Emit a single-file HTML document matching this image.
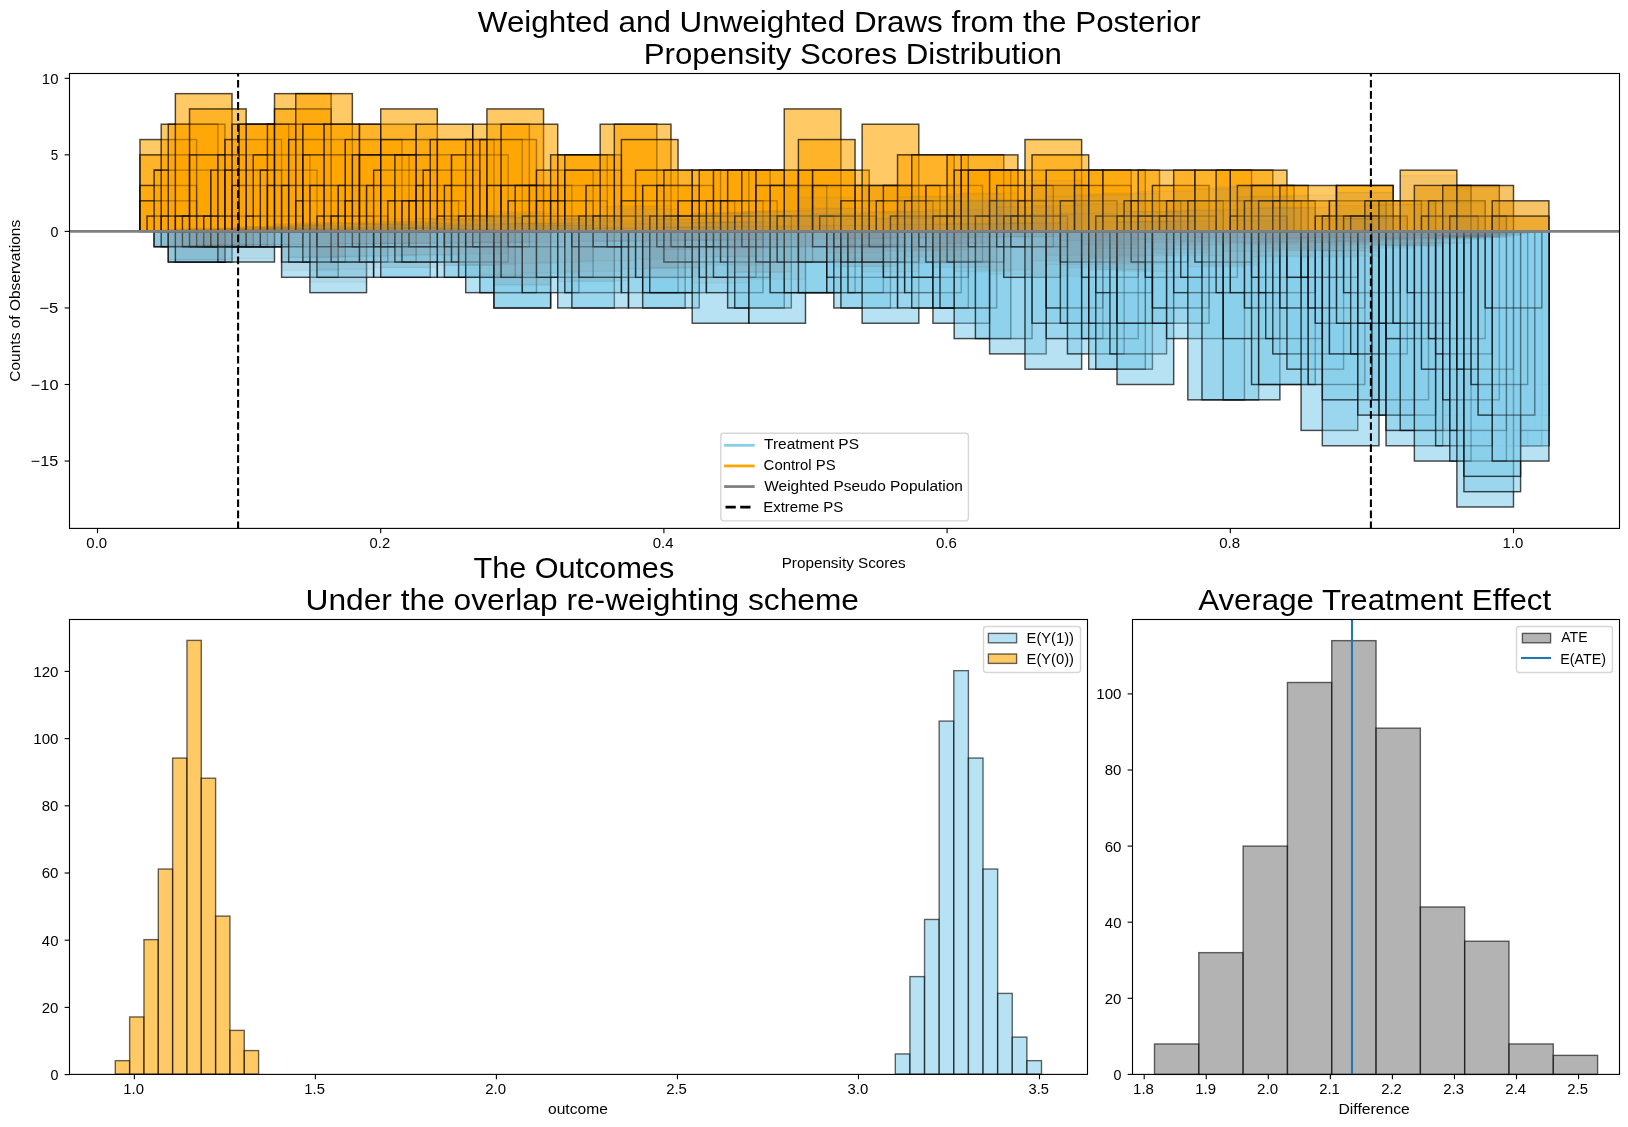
<!DOCTYPE html>
<html><head><meta charset="utf-8"><style>
html,body{margin:0;padding:0;background:#fff;overflow:hidden;}
svg{display:block;will-change:transform;}
text{font-family:"Liberation Sans",sans-serif;fill:#000;}
</style></head><body>
<svg width="1628" height="1127" viewBox="0 0 1628 1127">
<rect width="1628" height="1127" fill="#fff"/>
<clipPath id="ctop"><rect x="69.5" y="73.5" width="1550.0" height="454.9"/></clipPath>
<g clip-path="url(#ctop)">
<g fill="#87ceeb" fill-opacity="0.6" stroke="#000" stroke-opacity="0.6" stroke-width="1.39">
<rect x="1492.26" y="231.40" width="56.64" height="214.34"/>
<rect x="1492.26" y="231.40" width="56.64" height="183.72"/>
<rect x="1492.26" y="231.40" width="56.64" height="153.10"/>
<rect x="1485.18" y="231.40" width="56.64" height="183.72"/>
<rect x="1442.70" y="231.40" width="56.64" height="199.03"/>
<rect x="1471.02" y="231.40" width="56.64" height="214.34"/>
<rect x="1478.10" y="231.40" width="56.64" height="199.03"/>
<rect x="1485.18" y="231.40" width="56.64" height="214.34"/>
<rect x="1492.26" y="231.40" width="56.64" height="214.34"/>
<rect x="1492.26" y="231.40" width="56.64" height="199.03"/>
<rect x="1442.70" y="231.40" width="56.64" height="183.72"/>
<rect x="1428.54" y="231.40" width="56.64" height="183.72"/>
<rect x="154.14" y="231.40" width="56.64" height="15.31"/>
<rect x="154.14" y="231.40" width="56.64" height="15.31"/>
<rect x="161.22" y="231.40" width="56.64" height="15.31"/>
<rect x="168.30" y="231.40" width="56.64" height="30.62"/>
<rect x="168.30" y="231.40" width="56.64" height="30.62"/>
<rect x="175.38" y="231.40" width="56.64" height="30.62"/>
<rect x="182.46" y="231.40" width="56.64" height="15.31"/>
<rect x="189.54" y="231.40" width="56.64" height="15.31"/>
<rect x="196.62" y="231.40" width="56.64" height="15.31"/>
<rect x="203.70" y="231.40" width="56.64" height="15.31"/>
<rect x="210.78" y="231.40" width="56.64" height="15.31"/>
<rect x="217.86" y="231.40" width="56.64" height="30.62"/>
<rect x="217.86" y="231.40" width="56.64" height="15.31"/>
<rect x="232.02" y="231.40" width="56.64" height="15.31"/>
<rect x="246.18" y="231.40" width="56.64" height="15.31"/>
<rect x="260.34" y="231.40" width="56.64" height="15.31"/>
<rect x="281.58" y="231.40" width="56.64" height="45.93"/>
<rect x="281.58" y="231.40" width="56.64" height="30.62"/>
<rect x="288.66" y="231.40" width="56.64" height="30.62"/>
<rect x="302.82" y="231.40" width="56.64" height="30.62"/>
<rect x="309.90" y="231.40" width="56.64" height="61.24"/>
<rect x="316.98" y="231.40" width="56.64" height="45.93"/>
<rect x="316.98" y="231.40" width="56.64" height="15.31"/>
<rect x="331.14" y="231.40" width="56.64" height="30.62"/>
<rect x="338.22" y="231.40" width="56.64" height="15.31"/>
<rect x="352.38" y="231.40" width="56.64" height="15.31"/>
<rect x="359.46" y="231.40" width="56.64" height="30.62"/>
<rect x="373.62" y="231.40" width="56.64" height="45.93"/>
<rect x="373.62" y="231.40" width="56.64" height="15.31"/>
<rect x="380.70" y="231.40" width="56.64" height="45.93"/>
<rect x="380.70" y="231.40" width="56.64" height="15.31"/>
<rect x="394.86" y="231.40" width="56.64" height="30.62"/>
<rect x="401.94" y="231.40" width="56.64" height="30.62"/>
<rect x="409.02" y="231.40" width="56.64" height="15.31"/>
<rect x="437.34" y="231.40" width="56.64" height="45.93"/>
<rect x="444.42" y="231.40" width="56.64" height="45.93"/>
<rect x="444.42" y="231.40" width="56.64" height="15.31"/>
<rect x="451.50" y="231.40" width="56.64" height="30.62"/>
<rect x="458.58" y="231.40" width="56.64" height="45.93"/>
<rect x="465.66" y="231.40" width="56.64" height="61.24"/>
<rect x="465.66" y="231.40" width="56.64" height="15.31"/>
<rect x="472.74" y="231.40" width="56.64" height="15.31"/>
<rect x="479.82" y="231.40" width="56.64" height="61.24"/>
<rect x="493.98" y="231.40" width="56.64" height="76.55"/>
<rect x="493.98" y="231.40" width="56.64" height="76.55"/>
<rect x="501.06" y="231.40" width="56.64" height="45.93"/>
<rect x="508.14" y="231.40" width="56.64" height="15.31"/>
<rect x="522.30" y="231.40" width="56.64" height="61.24"/>
<rect x="536.46" y="231.40" width="56.64" height="45.93"/>
<rect x="557.70" y="231.40" width="56.64" height="76.55"/>
<rect x="564.78" y="231.40" width="56.64" height="61.24"/>
<rect x="571.86" y="231.40" width="56.64" height="76.55"/>
<rect x="571.86" y="231.40" width="56.64" height="15.31"/>
<rect x="578.94" y="231.40" width="56.64" height="45.93"/>
<rect x="593.10" y="231.40" width="56.64" height="15.31"/>
<rect x="607.26" y="231.40" width="56.64" height="15.31"/>
<rect x="621.42" y="231.40" width="56.64" height="61.24"/>
<rect x="628.50" y="231.40" width="56.64" height="76.55"/>
<rect x="635.58" y="231.40" width="56.64" height="45.93"/>
<rect x="642.66" y="231.40" width="56.64" height="76.55"/>
<rect x="642.66" y="231.40" width="56.64" height="61.24"/>
<rect x="649.74" y="231.40" width="56.64" height="61.24"/>
<rect x="656.82" y="231.40" width="56.64" height="15.31"/>
<rect x="663.90" y="231.40" width="56.64" height="30.62"/>
<rect x="670.98" y="231.40" width="56.64" height="15.31"/>
<rect x="685.14" y="231.40" width="56.64" height="15.31"/>
<rect x="692.22" y="231.40" width="56.64" height="91.86"/>
<rect x="699.30" y="231.40" width="56.64" height="45.93"/>
<rect x="706.38" y="231.40" width="56.64" height="61.24"/>
<rect x="706.38" y="231.40" width="56.64" height="15.31"/>
<rect x="713.46" y="231.40" width="56.64" height="45.93"/>
<rect x="720.54" y="231.40" width="56.64" height="30.62"/>
<rect x="727.62" y="231.40" width="56.64" height="76.55"/>
<rect x="734.70" y="231.40" width="56.64" height="76.55"/>
<rect x="741.78" y="231.40" width="56.64" height="15.31"/>
<rect x="748.86" y="231.40" width="56.64" height="91.86"/>
<rect x="755.94" y="231.40" width="56.64" height="30.62"/>
<rect x="770.10" y="231.40" width="56.64" height="61.24"/>
<rect x="777.18" y="231.40" width="56.64" height="30.62"/>
<rect x="784.26" y="231.40" width="56.64" height="61.24"/>
<rect x="798.42" y="231.40" width="56.64" height="61.24"/>
<rect x="798.42" y="231.40" width="56.64" height="30.62"/>
<rect x="812.58" y="231.40" width="56.64" height="15.31"/>
<rect x="826.74" y="231.40" width="56.64" height="61.24"/>
<rect x="826.74" y="231.40" width="56.64" height="45.93"/>
<rect x="833.82" y="231.40" width="56.64" height="76.55"/>
<rect x="833.82" y="231.40" width="56.64" height="15.31"/>
<rect x="840.90" y="231.40" width="56.64" height="76.55"/>
<rect x="840.90" y="231.40" width="56.64" height="30.62"/>
<rect x="847.98" y="231.40" width="56.64" height="61.24"/>
<rect x="847.98" y="231.40" width="56.64" height="30.62"/>
<rect x="862.14" y="231.40" width="56.64" height="91.86"/>
<rect x="862.14" y="231.40" width="56.64" height="30.62"/>
<rect x="869.22" y="231.40" width="56.64" height="15.31"/>
<rect x="883.38" y="231.40" width="56.64" height="45.93"/>
<rect x="897.54" y="231.40" width="56.64" height="76.55"/>
<rect x="904.62" y="231.40" width="56.64" height="61.24"/>
<rect x="911.70" y="231.40" width="56.64" height="76.55"/>
<rect x="911.70" y="231.40" width="56.64" height="45.93"/>
<rect x="918.78" y="231.40" width="56.64" height="15.31"/>
<rect x="925.86" y="231.40" width="56.64" height="30.62"/>
<rect x="932.94" y="231.40" width="56.64" height="91.86"/>
<rect x="932.94" y="231.40" width="56.64" height="76.55"/>
<rect x="940.02" y="231.40" width="56.64" height="76.55"/>
<rect x="947.10" y="231.40" width="56.64" height="30.62"/>
<rect x="954.18" y="231.40" width="56.64" height="107.17"/>
<rect x="968.34" y="231.40" width="56.64" height="15.31"/>
<rect x="975.42" y="231.40" width="56.64" height="107.17"/>
<rect x="989.58" y="231.40" width="56.64" height="122.48"/>
<rect x="996.66" y="231.40" width="56.64" height="15.31"/>
<rect x="1003.74" y="231.40" width="56.64" height="45.93"/>
<rect x="1010.82" y="231.40" width="56.64" height="15.31"/>
<rect x="1024.98" y="231.40" width="56.64" height="137.79"/>
<rect x="1032.06" y="231.40" width="56.64" height="91.86"/>
<rect x="1046.22" y="231.40" width="56.64" height="107.17"/>
<rect x="1046.22" y="231.40" width="56.64" height="76.55"/>
<rect x="1060.38" y="231.40" width="56.64" height="91.86"/>
<rect x="1060.38" y="231.40" width="56.64" height="30.62"/>
<rect x="1067.46" y="231.40" width="56.64" height="122.48"/>
<rect x="1081.62" y="231.40" width="56.64" height="107.17"/>
<rect x="1081.62" y="231.40" width="56.64" height="45.93"/>
<rect x="1088.70" y="231.40" width="56.64" height="137.79"/>
<rect x="1088.70" y="231.40" width="56.64" height="91.86"/>
<rect x="1095.78" y="231.40" width="56.64" height="137.79"/>
<rect x="1095.78" y="231.40" width="56.64" height="61.24"/>
<rect x="1109.94" y="231.40" width="56.64" height="122.48"/>
<rect x="1117.02" y="231.40" width="56.64" height="153.10"/>
<rect x="1117.02" y="231.40" width="56.64" height="91.86"/>
<rect x="1131.18" y="231.40" width="56.64" height="30.62"/>
<rect x="1145.34" y="231.40" width="56.64" height="45.93"/>
<rect x="1152.42" y="231.40" width="56.64" height="91.86"/>
<rect x="1152.42" y="231.40" width="56.64" height="76.55"/>
<rect x="1166.58" y="231.40" width="56.64" height="107.17"/>
<rect x="1173.66" y="231.40" width="56.64" height="61.24"/>
<rect x="1180.74" y="231.40" width="56.64" height="45.93"/>
<rect x="1187.82" y="231.40" width="56.64" height="168.41"/>
<rect x="1194.90" y="231.40" width="56.64" height="30.62"/>
<rect x="1201.98" y="231.40" width="56.64" height="168.41"/>
<rect x="1216.14" y="231.40" width="56.64" height="61.24"/>
<rect x="1223.22" y="231.40" width="56.64" height="168.41"/>
<rect x="1223.22" y="231.40" width="56.64" height="107.17"/>
<rect x="1230.30" y="231.40" width="56.64" height="61.24"/>
<rect x="1244.46" y="231.40" width="56.64" height="76.55"/>
<rect x="1251.54" y="231.40" width="56.64" height="153.10"/>
<rect x="1251.54" y="231.40" width="56.64" height="45.93"/>
<rect x="1258.62" y="231.40" width="56.64" height="153.10"/>
<rect x="1258.62" y="231.40" width="56.64" height="61.24"/>
<rect x="1265.70" y="231.40" width="56.64" height="107.17"/>
<rect x="1272.78" y="231.40" width="56.64" height="122.48"/>
<rect x="1279.86" y="231.40" width="56.64" height="76.55"/>
<rect x="1286.94" y="231.40" width="56.64" height="137.79"/>
<rect x="1286.94" y="231.40" width="56.64" height="45.93"/>
<rect x="1301.10" y="231.40" width="56.64" height="199.03"/>
<rect x="1301.10" y="231.40" width="56.64" height="45.93"/>
<rect x="1308.18" y="231.40" width="56.64" height="153.10"/>
<rect x="1308.18" y="231.40" width="56.64" height="76.55"/>
<rect x="1315.26" y="231.40" width="56.64" height="91.86"/>
<rect x="1322.34" y="231.40" width="56.64" height="214.34"/>
<rect x="1322.34" y="231.40" width="56.64" height="168.41"/>
<rect x="1329.42" y="231.40" width="56.64" height="122.48"/>
<rect x="1336.50" y="231.40" width="56.64" height="91.86"/>
<rect x="1343.58" y="231.40" width="56.64" height="61.24"/>
<rect x="1350.66" y="231.40" width="56.64" height="122.48"/>
<rect x="1357.74" y="231.40" width="56.64" height="183.72"/>
<rect x="1357.74" y="231.40" width="56.64" height="91.86"/>
<rect x="1371.90" y="231.40" width="56.64" height="168.41"/>
<rect x="1378.98" y="231.40" width="56.64" height="183.72"/>
<rect x="1378.98" y="231.40" width="56.64" height="91.86"/>
<rect x="1386.06" y="231.40" width="56.64" height="214.34"/>
<rect x="1386.06" y="231.40" width="56.64" height="199.03"/>
<rect x="1386.06" y="231.40" width="56.64" height="107.17"/>
<rect x="1393.14" y="231.40" width="56.64" height="91.86"/>
<rect x="1400.22" y="231.40" width="56.64" height="199.03"/>
<rect x="1407.30" y="231.40" width="56.64" height="61.24"/>
<rect x="1414.38" y="231.40" width="56.64" height="229.65"/>
<rect x="1421.46" y="231.40" width="56.64" height="137.79"/>
<rect x="1428.54" y="231.40" width="56.64" height="107.17"/>
<rect x="1435.62" y="231.40" width="56.64" height="214.34"/>
<rect x="1435.62" y="231.40" width="56.64" height="122.48"/>
<rect x="1442.70" y="231.40" width="56.64" height="168.41"/>
<rect x="1449.78" y="231.40" width="56.64" height="229.65"/>
<rect x="1449.78" y="231.40" width="56.64" height="199.03"/>
<rect x="1456.86" y="231.40" width="56.64" height="275.58"/>
<rect x="1456.86" y="231.40" width="56.64" height="137.79"/>
<rect x="1463.94" y="231.40" width="56.64" height="260.27"/>
<rect x="1463.94" y="231.40" width="56.64" height="244.96"/>
<rect x="1471.02" y="231.40" width="56.64" height="153.10"/>
<rect x="1478.10" y="231.40" width="56.64" height="183.72"/>
<rect x="1485.18" y="231.40" width="56.64" height="76.55"/>
<rect x="1492.26" y="231.40" width="56.64" height="229.65"/>
</g>
<g fill="#ffa500" fill-opacity="0.6" stroke="#000" stroke-opacity="0.6" stroke-width="1.39">
<rect x="139.98" y="139.54" width="56.64" height="91.86"/>
<rect x="139.98" y="154.85" width="56.64" height="76.55"/>
<rect x="139.98" y="185.47" width="56.64" height="45.93"/>
<rect x="139.98" y="200.78" width="56.64" height="30.62"/>
<rect x="147.06" y="216.09" width="56.64" height="15.31"/>
<rect x="154.14" y="170.16" width="56.64" height="61.24"/>
<rect x="161.22" y="124.23" width="56.64" height="107.17"/>
<rect x="161.22" y="216.09" width="56.64" height="15.31"/>
<rect x="168.30" y="124.23" width="56.64" height="107.17"/>
<rect x="175.38" y="93.61" width="56.64" height="137.79"/>
<rect x="175.38" y="216.09" width="56.64" height="15.31"/>
<rect x="182.46" y="216.09" width="56.64" height="15.31"/>
<rect x="189.54" y="108.92" width="56.64" height="122.48"/>
<rect x="189.54" y="154.85" width="56.64" height="76.55"/>
<rect x="203.70" y="216.09" width="56.64" height="15.31"/>
<rect x="210.78" y="170.16" width="56.64" height="61.24"/>
<rect x="217.86" y="154.85" width="56.64" height="76.55"/>
<rect x="224.94" y="139.54" width="56.64" height="91.86"/>
<rect x="224.94" y="170.16" width="56.64" height="61.24"/>
<rect x="232.02" y="124.23" width="56.64" height="107.17"/>
<rect x="232.02" y="185.47" width="56.64" height="45.93"/>
<rect x="239.10" y="124.23" width="56.64" height="107.17"/>
<rect x="246.18" y="124.23" width="56.64" height="107.17"/>
<rect x="246.18" y="216.09" width="56.64" height="15.31"/>
<rect x="253.26" y="154.85" width="56.64" height="76.55"/>
<rect x="260.34" y="170.16" width="56.64" height="61.24"/>
<rect x="267.42" y="124.23" width="56.64" height="107.17"/>
<rect x="267.42" y="185.47" width="56.64" height="45.93"/>
<rect x="274.50" y="93.61" width="56.64" height="137.79"/>
<rect x="274.50" y="108.92" width="56.64" height="122.48"/>
<rect x="281.58" y="185.47" width="56.64" height="45.93"/>
<rect x="288.66" y="139.54" width="56.64" height="91.86"/>
<rect x="295.74" y="93.61" width="56.64" height="137.79"/>
<rect x="295.74" y="200.78" width="56.64" height="30.62"/>
<rect x="302.82" y="124.23" width="56.64" height="107.17"/>
<rect x="302.82" y="154.85" width="56.64" height="76.55"/>
<rect x="309.90" y="185.47" width="56.64" height="45.93"/>
<rect x="316.98" y="216.09" width="56.64" height="15.31"/>
<rect x="324.06" y="124.23" width="56.64" height="107.17"/>
<rect x="331.14" y="216.09" width="56.64" height="15.31"/>
<rect x="338.22" y="185.47" width="56.64" height="45.93"/>
<rect x="345.30" y="139.54" width="56.64" height="91.86"/>
<rect x="345.30" y="200.78" width="56.64" height="30.62"/>
<rect x="352.38" y="154.85" width="56.64" height="76.55"/>
<rect x="359.46" y="124.23" width="56.64" height="107.17"/>
<rect x="359.46" y="154.85" width="56.64" height="76.55"/>
<rect x="366.54" y="185.47" width="56.64" height="45.93"/>
<rect x="373.62" y="170.16" width="56.64" height="61.24"/>
<rect x="380.70" y="108.92" width="56.64" height="122.48"/>
<rect x="380.70" y="139.54" width="56.64" height="91.86"/>
<rect x="387.78" y="200.78" width="56.64" height="30.62"/>
<rect x="394.86" y="154.85" width="56.64" height="76.55"/>
<rect x="401.94" y="200.78" width="56.64" height="30.62"/>
<rect x="409.02" y="200.78" width="56.64" height="30.62"/>
<rect x="416.10" y="124.23" width="56.64" height="107.17"/>
<rect x="416.10" y="185.47" width="56.64" height="45.93"/>
<rect x="423.18" y="170.16" width="56.64" height="61.24"/>
<rect x="430.26" y="139.54" width="56.64" height="91.86"/>
<rect x="437.34" y="139.54" width="56.64" height="91.86"/>
<rect x="437.34" y="216.09" width="56.64" height="15.31"/>
<rect x="444.42" y="185.47" width="56.64" height="45.93"/>
<rect x="451.50" y="154.85" width="56.64" height="76.55"/>
<rect x="458.58" y="216.09" width="56.64" height="15.31"/>
<rect x="465.66" y="139.54" width="56.64" height="91.86"/>
<rect x="472.74" y="124.23" width="56.64" height="107.17"/>
<rect x="479.82" y="139.54" width="56.64" height="91.86"/>
<rect x="486.90" y="108.92" width="56.64" height="122.48"/>
<rect x="486.90" y="185.47" width="56.64" height="45.93"/>
<rect x="501.06" y="124.23" width="56.64" height="107.17"/>
<rect x="501.06" y="185.47" width="56.64" height="45.93"/>
<rect x="508.14" y="200.78" width="56.64" height="30.62"/>
<rect x="515.22" y="185.47" width="56.64" height="45.93"/>
<rect x="522.30" y="216.09" width="56.64" height="15.31"/>
<rect x="529.38" y="185.47" width="56.64" height="45.93"/>
<rect x="536.46" y="170.16" width="56.64" height="61.24"/>
<rect x="536.46" y="200.78" width="56.64" height="30.62"/>
<rect x="550.62" y="154.85" width="56.64" height="76.55"/>
<rect x="550.62" y="200.78" width="56.64" height="30.62"/>
<rect x="557.70" y="154.85" width="56.64" height="76.55"/>
<rect x="564.78" y="154.85" width="56.64" height="76.55"/>
<rect x="564.78" y="170.16" width="56.64" height="61.24"/>
<rect x="578.94" y="216.09" width="56.64" height="15.31"/>
<rect x="586.02" y="185.47" width="56.64" height="45.93"/>
<rect x="593.10" y="216.09" width="56.64" height="15.31"/>
<rect x="600.18" y="124.23" width="56.64" height="107.17"/>
<rect x="614.34" y="124.23" width="56.64" height="107.17"/>
<rect x="621.42" y="139.54" width="56.64" height="91.86"/>
<rect x="621.42" y="200.78" width="56.64" height="30.62"/>
<rect x="635.58" y="170.16" width="56.64" height="61.24"/>
<rect x="642.66" y="185.47" width="56.64" height="45.93"/>
<rect x="649.74" y="216.09" width="56.64" height="15.31"/>
<rect x="656.82" y="185.47" width="56.64" height="45.93"/>
<rect x="663.90" y="170.16" width="56.64" height="61.24"/>
<rect x="663.90" y="216.09" width="56.64" height="15.31"/>
<rect x="678.06" y="200.78" width="56.64" height="30.62"/>
<rect x="678.06" y="216.09" width="56.64" height="15.31"/>
<rect x="692.22" y="170.16" width="56.64" height="61.24"/>
<rect x="692.22" y="200.78" width="56.64" height="30.62"/>
<rect x="699.30" y="170.16" width="56.64" height="61.24"/>
<rect x="706.38" y="200.78" width="56.64" height="30.62"/>
<rect x="713.46" y="170.16" width="56.64" height="61.24"/>
<rect x="720.54" y="200.78" width="56.64" height="30.62"/>
<rect x="727.62" y="170.16" width="56.64" height="61.24"/>
<rect x="734.70" y="216.09" width="56.64" height="15.31"/>
<rect x="741.78" y="170.16" width="56.64" height="61.24"/>
<rect x="755.94" y="170.16" width="56.64" height="61.24"/>
<rect x="755.94" y="185.47" width="56.64" height="45.93"/>
<rect x="770.10" y="185.47" width="56.64" height="45.93"/>
<rect x="777.18" y="216.09" width="56.64" height="15.31"/>
<rect x="784.26" y="108.92" width="56.64" height="122.48"/>
<rect x="798.42" y="139.54" width="56.64" height="91.86"/>
<rect x="798.42" y="170.16" width="56.64" height="61.24"/>
<rect x="812.58" y="170.16" width="56.64" height="61.24"/>
<rect x="812.58" y="185.47" width="56.64" height="45.93"/>
<rect x="819.66" y="216.09" width="56.64" height="15.31"/>
<rect x="840.90" y="200.78" width="56.64" height="30.62"/>
<rect x="855.06" y="185.47" width="56.64" height="45.93"/>
<rect x="862.14" y="124.23" width="56.64" height="107.17"/>
<rect x="869.22" y="185.47" width="56.64" height="45.93"/>
<rect x="876.30" y="200.78" width="56.64" height="30.62"/>
<rect x="883.38" y="185.47" width="56.64" height="45.93"/>
<rect x="890.46" y="216.09" width="56.64" height="15.31"/>
<rect x="897.54" y="154.85" width="56.64" height="76.55"/>
<rect x="904.62" y="200.78" width="56.64" height="30.62"/>
<rect x="911.70" y="154.85" width="56.64" height="76.55"/>
<rect x="925.86" y="185.47" width="56.64" height="45.93"/>
<rect x="932.94" y="216.09" width="56.64" height="15.31"/>
<rect x="947.10" y="154.85" width="56.64" height="76.55"/>
<rect x="947.10" y="216.09" width="56.64" height="15.31"/>
<rect x="954.18" y="170.16" width="56.64" height="61.24"/>
<rect x="961.26" y="154.85" width="56.64" height="76.55"/>
<rect x="961.26" y="170.16" width="56.64" height="61.24"/>
<rect x="968.34" y="170.16" width="56.64" height="61.24"/>
<rect x="975.42" y="216.09" width="56.64" height="15.31"/>
<rect x="989.58" y="170.16" width="56.64" height="61.24"/>
<rect x="989.58" y="200.78" width="56.64" height="30.62"/>
<rect x="996.66" y="185.47" width="56.64" height="45.93"/>
<rect x="1003.74" y="216.09" width="56.64" height="15.31"/>
<rect x="1010.82" y="216.09" width="56.64" height="15.31"/>
<rect x="1017.90" y="200.78" width="56.64" height="30.62"/>
<rect x="1024.98" y="139.54" width="56.64" height="91.86"/>
<rect x="1032.06" y="154.85" width="56.64" height="76.55"/>
<rect x="1032.06" y="185.47" width="56.64" height="45.93"/>
<rect x="1046.22" y="170.16" width="56.64" height="61.24"/>
<rect x="1060.38" y="200.78" width="56.64" height="30.62"/>
<rect x="1074.54" y="170.16" width="56.64" height="61.24"/>
<rect x="1074.54" y="185.47" width="56.64" height="45.93"/>
<rect x="1088.70" y="170.16" width="56.64" height="61.24"/>
<rect x="1095.78" y="216.09" width="56.64" height="15.31"/>
<rect x="1102.86" y="170.16" width="56.64" height="61.24"/>
<rect x="1117.02" y="216.09" width="56.64" height="15.31"/>
<rect x="1124.10" y="200.78" width="56.64" height="30.62"/>
<rect x="1131.18" y="200.78" width="56.64" height="30.62"/>
<rect x="1138.26" y="170.16" width="56.64" height="61.24"/>
<rect x="1138.26" y="216.09" width="56.64" height="15.31"/>
<rect x="1152.42" y="185.47" width="56.64" height="45.93"/>
<rect x="1159.50" y="216.09" width="56.64" height="15.31"/>
<rect x="1166.58" y="200.78" width="56.64" height="30.62"/>
<rect x="1173.66" y="170.16" width="56.64" height="61.24"/>
<rect x="1187.82" y="200.78" width="56.64" height="30.62"/>
<rect x="1194.90" y="170.16" width="56.64" height="61.24"/>
<rect x="1216.14" y="170.16" width="56.64" height="61.24"/>
<rect x="1230.30" y="170.16" width="56.64" height="61.24"/>
<rect x="1230.30" y="216.09" width="56.64" height="15.31"/>
<rect x="1237.38" y="185.47" width="56.64" height="45.93"/>
<rect x="1244.46" y="200.78" width="56.64" height="30.62"/>
<rect x="1251.54" y="185.47" width="56.64" height="45.93"/>
<rect x="1258.62" y="200.78" width="56.64" height="30.62"/>
<rect x="1272.78" y="200.78" width="56.64" height="30.62"/>
<rect x="1279.86" y="185.47" width="56.64" height="45.93"/>
<rect x="1315.26" y="216.09" width="56.64" height="15.31"/>
<rect x="1322.34" y="216.09" width="56.64" height="15.31"/>
<rect x="1329.42" y="200.78" width="56.64" height="30.62"/>
<rect x="1336.50" y="185.47" width="56.64" height="45.93"/>
<rect x="1336.50" y="185.47" width="56.64" height="45.93"/>
<rect x="1343.58" y="216.09" width="56.64" height="15.31"/>
<rect x="1350.66" y="216.09" width="56.64" height="15.31"/>
<rect x="1364.82" y="200.78" width="56.64" height="30.62"/>
<rect x="1378.98" y="200.78" width="56.64" height="30.62"/>
<rect x="1400.22" y="170.16" width="56.64" height="61.24"/>
<rect x="1414.38" y="185.47" width="56.64" height="45.93"/>
<rect x="1421.46" y="216.09" width="56.64" height="15.31"/>
<rect x="1428.54" y="200.78" width="56.64" height="30.62"/>
<rect x="1442.70" y="185.47" width="56.64" height="45.93"/>
<rect x="1449.78" y="216.09" width="56.64" height="15.31"/>
<rect x="1456.86" y="185.47" width="56.64" height="45.93"/>
<rect x="1492.26" y="200.78" width="56.64" height="30.62"/>
<rect x="1492.26" y="216.09" width="56.64" height="15.31"/>
</g>
<g fill="none" stroke="#000" stroke-opacity="0.25" stroke-width="1.39">
<rect x="154.14" y="231.40" width="56.64" height="15.31"/>
<rect x="154.14" y="231.40" width="56.64" height="15.31"/>
<rect x="161.22" y="231.40" width="56.64" height="15.31"/>
<rect x="168.30" y="231.40" width="56.64" height="30.62"/>
<rect x="168.30" y="231.40" width="56.64" height="30.62"/>
<rect x="175.38" y="231.40" width="56.64" height="30.62"/>
<rect x="182.46" y="231.40" width="56.64" height="15.31"/>
<rect x="189.54" y="231.40" width="56.64" height="15.31"/>
<rect x="196.62" y="231.40" width="56.64" height="15.31"/>
<rect x="203.70" y="231.40" width="56.64" height="15.31"/>
<rect x="210.78" y="231.40" width="56.64" height="15.31"/>
<rect x="217.86" y="231.40" width="56.64" height="30.62"/>
<rect x="217.86" y="231.40" width="56.64" height="15.31"/>
<rect x="232.02" y="231.40" width="56.64" height="15.31"/>
<rect x="246.18" y="231.40" width="56.64" height="15.31"/>
<rect x="260.34" y="231.40" width="56.64" height="15.31"/>
<rect x="281.58" y="231.40" width="56.64" height="45.93"/>
<rect x="281.58" y="231.40" width="56.64" height="30.62"/>
<rect x="288.66" y="231.40" width="56.64" height="30.62"/>
<rect x="302.82" y="231.40" width="56.64" height="30.62"/>
<rect x="309.90" y="231.40" width="56.64" height="61.24"/>
<rect x="316.98" y="231.40" width="56.64" height="45.93"/>
<rect x="316.98" y="231.40" width="56.64" height="15.31"/>
<rect x="331.14" y="231.40" width="56.64" height="30.62"/>
<rect x="338.22" y="231.40" width="56.64" height="15.31"/>
<rect x="352.38" y="231.40" width="56.64" height="15.31"/>
<rect x="359.46" y="231.40" width="56.64" height="30.62"/>
<rect x="373.62" y="231.40" width="56.64" height="45.93"/>
<rect x="373.62" y="231.40" width="56.64" height="15.31"/>
<rect x="380.70" y="231.40" width="56.64" height="45.93"/>
<rect x="380.70" y="231.40" width="56.64" height="15.31"/>
<rect x="394.86" y="231.40" width="56.64" height="30.62"/>
<rect x="401.94" y="231.40" width="56.64" height="30.62"/>
<rect x="409.02" y="231.40" width="56.64" height="15.31"/>
<rect x="437.34" y="231.40" width="56.64" height="45.93"/>
<rect x="444.42" y="231.40" width="56.64" height="45.93"/>
<rect x="444.42" y="231.40" width="56.64" height="15.31"/>
<rect x="451.50" y="231.40" width="56.64" height="30.62"/>
<rect x="458.58" y="231.40" width="56.64" height="45.93"/>
<rect x="465.66" y="231.40" width="56.64" height="61.24"/>
<rect x="465.66" y="231.40" width="56.64" height="15.31"/>
<rect x="472.74" y="231.40" width="56.64" height="15.31"/>
<rect x="479.82" y="231.40" width="56.64" height="61.24"/>
<rect x="493.98" y="231.40" width="56.64" height="76.55"/>
<rect x="493.98" y="231.40" width="56.64" height="76.55"/>
<rect x="501.06" y="231.40" width="56.64" height="45.93"/>
<rect x="508.14" y="231.40" width="56.64" height="15.31"/>
<rect x="522.30" y="231.40" width="56.64" height="61.24"/>
<rect x="536.46" y="231.40" width="56.64" height="45.93"/>
<rect x="557.70" y="231.40" width="56.64" height="76.55"/>
<rect x="564.78" y="231.40" width="56.64" height="61.24"/>
<rect x="571.86" y="231.40" width="56.64" height="76.55"/>
<rect x="571.86" y="231.40" width="56.64" height="15.31"/>
<rect x="578.94" y="231.40" width="56.64" height="45.93"/>
<rect x="593.10" y="231.40" width="56.64" height="15.31"/>
<rect x="607.26" y="231.40" width="56.64" height="15.31"/>
<rect x="621.42" y="231.40" width="56.64" height="61.24"/>
<rect x="628.50" y="231.40" width="56.64" height="76.55"/>
<rect x="635.58" y="231.40" width="56.64" height="45.93"/>
<rect x="642.66" y="231.40" width="56.64" height="76.55"/>
<rect x="642.66" y="231.40" width="56.64" height="61.24"/>
<rect x="649.74" y="231.40" width="56.64" height="61.24"/>
<rect x="656.82" y="231.40" width="56.64" height="15.31"/>
<rect x="663.90" y="231.40" width="56.64" height="30.62"/>
<rect x="670.98" y="231.40" width="56.64" height="15.31"/>
<rect x="685.14" y="231.40" width="56.64" height="15.31"/>
<rect x="692.22" y="231.40" width="56.64" height="91.86"/>
<rect x="699.30" y="231.40" width="56.64" height="45.93"/>
<rect x="706.38" y="231.40" width="56.64" height="61.24"/>
<rect x="706.38" y="231.40" width="56.64" height="15.31"/>
<rect x="713.46" y="231.40" width="56.64" height="45.93"/>
<rect x="720.54" y="231.40" width="56.64" height="30.62"/>
<rect x="727.62" y="231.40" width="56.64" height="76.55"/>
<rect x="734.70" y="231.40" width="56.64" height="76.55"/>
<rect x="741.78" y="231.40" width="56.64" height="15.31"/>
<rect x="748.86" y="231.40" width="56.64" height="91.86"/>
<rect x="755.94" y="231.40" width="56.64" height="30.62"/>
<rect x="770.10" y="231.40" width="56.64" height="61.24"/>
<rect x="777.18" y="231.40" width="56.64" height="30.62"/>
<rect x="784.26" y="231.40" width="56.64" height="61.24"/>
<rect x="798.42" y="231.40" width="56.64" height="61.24"/>
<rect x="798.42" y="231.40" width="56.64" height="30.62"/>
<rect x="812.58" y="231.40" width="56.64" height="15.31"/>
<rect x="826.74" y="231.40" width="56.64" height="61.24"/>
<rect x="826.74" y="231.40" width="56.64" height="45.93"/>
<rect x="833.82" y="231.40" width="56.64" height="76.55"/>
<rect x="833.82" y="231.40" width="56.64" height="15.31"/>
<rect x="840.90" y="231.40" width="56.64" height="76.55"/>
<rect x="840.90" y="231.40" width="56.64" height="30.62"/>
<rect x="847.98" y="231.40" width="56.64" height="61.24"/>
<rect x="847.98" y="231.40" width="56.64" height="30.62"/>
<rect x="862.14" y="231.40" width="56.64" height="91.86"/>
<rect x="862.14" y="231.40" width="56.64" height="30.62"/>
<rect x="869.22" y="231.40" width="56.64" height="15.31"/>
<rect x="883.38" y="231.40" width="56.64" height="45.93"/>
<rect x="897.54" y="231.40" width="56.64" height="76.55"/>
<rect x="904.62" y="231.40" width="56.64" height="61.24"/>
<rect x="911.70" y="231.40" width="56.64" height="76.55"/>
<rect x="911.70" y="231.40" width="56.64" height="45.93"/>
<rect x="918.78" y="231.40" width="56.64" height="15.31"/>
<rect x="925.86" y="231.40" width="56.64" height="30.62"/>
<rect x="932.94" y="231.40" width="56.64" height="91.86"/>
<rect x="932.94" y="231.40" width="56.64" height="76.55"/>
<rect x="940.02" y="231.40" width="56.64" height="76.55"/>
<rect x="947.10" y="231.40" width="56.64" height="30.62"/>
<rect x="954.18" y="231.40" width="56.64" height="107.17"/>
<rect x="968.34" y="231.40" width="56.64" height="15.31"/>
<rect x="975.42" y="231.40" width="56.64" height="107.17"/>
<rect x="989.58" y="231.40" width="56.64" height="122.48"/>
<rect x="996.66" y="231.40" width="56.64" height="15.31"/>
<rect x="1003.74" y="231.40" width="56.64" height="45.93"/>
<rect x="1010.82" y="231.40" width="56.64" height="15.31"/>
<rect x="1024.98" y="231.40" width="56.64" height="137.79"/>
<rect x="1032.06" y="231.40" width="56.64" height="91.86"/>
<rect x="1046.22" y="231.40" width="56.64" height="107.17"/>
<rect x="1046.22" y="231.40" width="56.64" height="76.55"/>
<rect x="1060.38" y="231.40" width="56.64" height="91.86"/>
<rect x="1060.38" y="231.40" width="56.64" height="30.62"/>
<rect x="1067.46" y="231.40" width="56.64" height="122.48"/>
<rect x="1081.62" y="231.40" width="56.64" height="107.17"/>
<rect x="1081.62" y="231.40" width="56.64" height="45.93"/>
<rect x="1088.70" y="231.40" width="56.64" height="137.79"/>
<rect x="1088.70" y="231.40" width="56.64" height="91.86"/>
<rect x="1095.78" y="231.40" width="56.64" height="137.79"/>
<rect x="1095.78" y="231.40" width="56.64" height="61.24"/>
<rect x="1109.94" y="231.40" width="56.64" height="122.48"/>
<rect x="1117.02" y="231.40" width="56.64" height="153.10"/>
<rect x="1117.02" y="231.40" width="56.64" height="91.86"/>
<rect x="1131.18" y="231.40" width="56.64" height="30.62"/>
<rect x="1145.34" y="231.40" width="56.64" height="45.93"/>
<rect x="1152.42" y="231.40" width="56.64" height="91.86"/>
<rect x="1152.42" y="231.40" width="56.64" height="76.55"/>
<rect x="1166.58" y="231.40" width="56.64" height="107.17"/>
<rect x="1173.66" y="231.40" width="56.64" height="61.24"/>
<rect x="1180.74" y="231.40" width="56.64" height="45.93"/>
<rect x="1187.82" y="231.40" width="56.64" height="168.41"/>
<rect x="1194.90" y="231.40" width="56.64" height="30.62"/>
<rect x="1201.98" y="231.40" width="56.64" height="168.41"/>
<rect x="1216.14" y="231.40" width="56.64" height="61.24"/>
<rect x="1223.22" y="231.40" width="56.64" height="168.41"/>
<rect x="1223.22" y="231.40" width="56.64" height="107.17"/>
<rect x="1230.30" y="231.40" width="56.64" height="61.24"/>
<rect x="1244.46" y="231.40" width="56.64" height="76.55"/>
<rect x="1251.54" y="231.40" width="56.64" height="153.10"/>
<rect x="1251.54" y="231.40" width="56.64" height="45.93"/>
<rect x="1258.62" y="231.40" width="56.64" height="153.10"/>
<rect x="1258.62" y="231.40" width="56.64" height="61.24"/>
<rect x="1265.70" y="231.40" width="56.64" height="107.17"/>
<rect x="1272.78" y="231.40" width="56.64" height="122.48"/>
<rect x="1279.86" y="231.40" width="56.64" height="76.55"/>
<rect x="1286.94" y="231.40" width="56.64" height="137.79"/>
<rect x="1286.94" y="231.40" width="56.64" height="45.93"/>
<rect x="1301.10" y="231.40" width="56.64" height="199.03"/>
<rect x="1301.10" y="231.40" width="56.64" height="45.93"/>
<rect x="1308.18" y="231.40" width="56.64" height="153.10"/>
<rect x="1308.18" y="231.40" width="56.64" height="76.55"/>
<rect x="1315.26" y="231.40" width="56.64" height="91.86"/>
<rect x="1322.34" y="231.40" width="56.64" height="214.34"/>
<rect x="1322.34" y="231.40" width="56.64" height="168.41"/>
<rect x="1329.42" y="231.40" width="56.64" height="122.48"/>
<rect x="1336.50" y="231.40" width="56.64" height="91.86"/>
<rect x="1343.58" y="231.40" width="56.64" height="61.24"/>
<rect x="1350.66" y="231.40" width="56.64" height="122.48"/>
<rect x="1357.74" y="231.40" width="56.64" height="183.72"/>
<rect x="1357.74" y="231.40" width="56.64" height="91.86"/>
<rect x="1371.90" y="231.40" width="56.64" height="168.41"/>
<rect x="1378.98" y="231.40" width="56.64" height="183.72"/>
<rect x="1378.98" y="231.40" width="56.64" height="91.86"/>
<rect x="1386.06" y="231.40" width="56.64" height="214.34"/>
<rect x="1386.06" y="231.40" width="56.64" height="199.03"/>
<rect x="1386.06" y="231.40" width="56.64" height="107.17"/>
<rect x="1393.14" y="231.40" width="56.64" height="91.86"/>
<rect x="1400.22" y="231.40" width="56.64" height="199.03"/>
<rect x="1407.30" y="231.40" width="56.64" height="61.24"/>
<rect x="1414.38" y="231.40" width="56.64" height="229.65"/>
<rect x="1421.46" y="231.40" width="56.64" height="137.79"/>
<rect x="1428.54" y="231.40" width="56.64" height="107.17"/>
<rect x="1435.62" y="231.40" width="56.64" height="214.34"/>
<rect x="1435.62" y="231.40" width="56.64" height="122.48"/>
<rect x="1442.70" y="231.40" width="56.64" height="168.41"/>
<rect x="1449.78" y="231.40" width="56.64" height="229.65"/>
<rect x="1449.78" y="231.40" width="56.64" height="199.03"/>
<rect x="1456.86" y="231.40" width="56.64" height="275.58"/>
<rect x="1456.86" y="231.40" width="56.64" height="137.79"/>
<rect x="1463.94" y="231.40" width="56.64" height="260.27"/>
<rect x="1463.94" y="231.40" width="56.64" height="244.96"/>
<rect x="1471.02" y="231.40" width="56.64" height="153.10"/>
<rect x="1478.10" y="231.40" width="56.64" height="183.72"/>
<rect x="1485.18" y="231.40" width="56.64" height="76.55"/>
<rect x="1492.26" y="231.40" width="56.64" height="229.65"/>
<rect x="139.98" y="139.54" width="56.64" height="91.86"/>
<rect x="139.98" y="154.85" width="56.64" height="76.55"/>
<rect x="139.98" y="185.47" width="56.64" height="45.93"/>
<rect x="139.98" y="200.78" width="56.64" height="30.62"/>
<rect x="147.06" y="216.09" width="56.64" height="15.31"/>
<rect x="154.14" y="170.16" width="56.64" height="61.24"/>
<rect x="161.22" y="124.23" width="56.64" height="107.17"/>
<rect x="161.22" y="216.09" width="56.64" height="15.31"/>
<rect x="168.30" y="124.23" width="56.64" height="107.17"/>
<rect x="175.38" y="93.61" width="56.64" height="137.79"/>
<rect x="175.38" y="216.09" width="56.64" height="15.31"/>
<rect x="182.46" y="216.09" width="56.64" height="15.31"/>
<rect x="189.54" y="108.92" width="56.64" height="122.48"/>
<rect x="189.54" y="154.85" width="56.64" height="76.55"/>
<rect x="203.70" y="216.09" width="56.64" height="15.31"/>
<rect x="210.78" y="170.16" width="56.64" height="61.24"/>
<rect x="217.86" y="154.85" width="56.64" height="76.55"/>
<rect x="224.94" y="139.54" width="56.64" height="91.86"/>
<rect x="224.94" y="170.16" width="56.64" height="61.24"/>
<rect x="232.02" y="124.23" width="56.64" height="107.17"/>
<rect x="232.02" y="185.47" width="56.64" height="45.93"/>
<rect x="239.10" y="124.23" width="56.64" height="107.17"/>
<rect x="246.18" y="124.23" width="56.64" height="107.17"/>
<rect x="246.18" y="216.09" width="56.64" height="15.31"/>
<rect x="253.26" y="154.85" width="56.64" height="76.55"/>
<rect x="260.34" y="170.16" width="56.64" height="61.24"/>
<rect x="267.42" y="124.23" width="56.64" height="107.17"/>
<rect x="267.42" y="185.47" width="56.64" height="45.93"/>
<rect x="274.50" y="93.61" width="56.64" height="137.79"/>
<rect x="274.50" y="108.92" width="56.64" height="122.48"/>
<rect x="281.58" y="185.47" width="56.64" height="45.93"/>
<rect x="288.66" y="139.54" width="56.64" height="91.86"/>
<rect x="295.74" y="93.61" width="56.64" height="137.79"/>
<rect x="295.74" y="200.78" width="56.64" height="30.62"/>
<rect x="302.82" y="124.23" width="56.64" height="107.17"/>
<rect x="302.82" y="154.85" width="56.64" height="76.55"/>
<rect x="309.90" y="185.47" width="56.64" height="45.93"/>
<rect x="316.98" y="216.09" width="56.64" height="15.31"/>
<rect x="324.06" y="124.23" width="56.64" height="107.17"/>
<rect x="331.14" y="216.09" width="56.64" height="15.31"/>
<rect x="338.22" y="185.47" width="56.64" height="45.93"/>
<rect x="345.30" y="139.54" width="56.64" height="91.86"/>
<rect x="345.30" y="200.78" width="56.64" height="30.62"/>
<rect x="352.38" y="154.85" width="56.64" height="76.55"/>
<rect x="359.46" y="124.23" width="56.64" height="107.17"/>
<rect x="359.46" y="154.85" width="56.64" height="76.55"/>
<rect x="366.54" y="185.47" width="56.64" height="45.93"/>
<rect x="373.62" y="170.16" width="56.64" height="61.24"/>
<rect x="380.70" y="108.92" width="56.64" height="122.48"/>
<rect x="380.70" y="139.54" width="56.64" height="91.86"/>
<rect x="387.78" y="200.78" width="56.64" height="30.62"/>
<rect x="394.86" y="154.85" width="56.64" height="76.55"/>
<rect x="401.94" y="200.78" width="56.64" height="30.62"/>
<rect x="409.02" y="200.78" width="56.64" height="30.62"/>
<rect x="416.10" y="124.23" width="56.64" height="107.17"/>
<rect x="416.10" y="185.47" width="56.64" height="45.93"/>
<rect x="423.18" y="170.16" width="56.64" height="61.24"/>
<rect x="430.26" y="139.54" width="56.64" height="91.86"/>
<rect x="437.34" y="139.54" width="56.64" height="91.86"/>
<rect x="437.34" y="216.09" width="56.64" height="15.31"/>
<rect x="444.42" y="185.47" width="56.64" height="45.93"/>
<rect x="451.50" y="154.85" width="56.64" height="76.55"/>
<rect x="458.58" y="216.09" width="56.64" height="15.31"/>
<rect x="465.66" y="139.54" width="56.64" height="91.86"/>
<rect x="472.74" y="124.23" width="56.64" height="107.17"/>
<rect x="479.82" y="139.54" width="56.64" height="91.86"/>
<rect x="486.90" y="108.92" width="56.64" height="122.48"/>
<rect x="486.90" y="185.47" width="56.64" height="45.93"/>
<rect x="501.06" y="124.23" width="56.64" height="107.17"/>
<rect x="501.06" y="185.47" width="56.64" height="45.93"/>
<rect x="508.14" y="200.78" width="56.64" height="30.62"/>
<rect x="515.22" y="185.47" width="56.64" height="45.93"/>
<rect x="522.30" y="216.09" width="56.64" height="15.31"/>
<rect x="529.38" y="185.47" width="56.64" height="45.93"/>
<rect x="536.46" y="170.16" width="56.64" height="61.24"/>
<rect x="536.46" y="200.78" width="56.64" height="30.62"/>
<rect x="550.62" y="154.85" width="56.64" height="76.55"/>
<rect x="550.62" y="200.78" width="56.64" height="30.62"/>
<rect x="557.70" y="154.85" width="56.64" height="76.55"/>
<rect x="564.78" y="154.85" width="56.64" height="76.55"/>
<rect x="564.78" y="170.16" width="56.64" height="61.24"/>
<rect x="578.94" y="216.09" width="56.64" height="15.31"/>
<rect x="586.02" y="185.47" width="56.64" height="45.93"/>
<rect x="593.10" y="216.09" width="56.64" height="15.31"/>
<rect x="600.18" y="124.23" width="56.64" height="107.17"/>
<rect x="614.34" y="124.23" width="56.64" height="107.17"/>
<rect x="621.42" y="139.54" width="56.64" height="91.86"/>
<rect x="621.42" y="200.78" width="56.64" height="30.62"/>
<rect x="635.58" y="170.16" width="56.64" height="61.24"/>
<rect x="642.66" y="185.47" width="56.64" height="45.93"/>
<rect x="649.74" y="216.09" width="56.64" height="15.31"/>
<rect x="656.82" y="185.47" width="56.64" height="45.93"/>
<rect x="663.90" y="170.16" width="56.64" height="61.24"/>
<rect x="663.90" y="216.09" width="56.64" height="15.31"/>
<rect x="678.06" y="200.78" width="56.64" height="30.62"/>
<rect x="678.06" y="216.09" width="56.64" height="15.31"/>
<rect x="692.22" y="170.16" width="56.64" height="61.24"/>
<rect x="692.22" y="200.78" width="56.64" height="30.62"/>
<rect x="699.30" y="170.16" width="56.64" height="61.24"/>
<rect x="706.38" y="200.78" width="56.64" height="30.62"/>
<rect x="713.46" y="170.16" width="56.64" height="61.24"/>
<rect x="720.54" y="200.78" width="56.64" height="30.62"/>
<rect x="727.62" y="170.16" width="56.64" height="61.24"/>
<rect x="734.70" y="216.09" width="56.64" height="15.31"/>
<rect x="741.78" y="170.16" width="56.64" height="61.24"/>
<rect x="755.94" y="170.16" width="56.64" height="61.24"/>
<rect x="755.94" y="185.47" width="56.64" height="45.93"/>
<rect x="770.10" y="185.47" width="56.64" height="45.93"/>
<rect x="777.18" y="216.09" width="56.64" height="15.31"/>
<rect x="784.26" y="108.92" width="56.64" height="122.48"/>
<rect x="798.42" y="139.54" width="56.64" height="91.86"/>
<rect x="798.42" y="170.16" width="56.64" height="61.24"/>
<rect x="812.58" y="170.16" width="56.64" height="61.24"/>
<rect x="812.58" y="185.47" width="56.64" height="45.93"/>
<rect x="819.66" y="216.09" width="56.64" height="15.31"/>
<rect x="840.90" y="200.78" width="56.64" height="30.62"/>
<rect x="855.06" y="185.47" width="56.64" height="45.93"/>
<rect x="862.14" y="124.23" width="56.64" height="107.17"/>
<rect x="869.22" y="185.47" width="56.64" height="45.93"/>
<rect x="876.30" y="200.78" width="56.64" height="30.62"/>
<rect x="883.38" y="185.47" width="56.64" height="45.93"/>
<rect x="890.46" y="216.09" width="56.64" height="15.31"/>
<rect x="897.54" y="154.85" width="56.64" height="76.55"/>
<rect x="904.62" y="200.78" width="56.64" height="30.62"/>
<rect x="911.70" y="154.85" width="56.64" height="76.55"/>
<rect x="925.86" y="185.47" width="56.64" height="45.93"/>
<rect x="932.94" y="216.09" width="56.64" height="15.31"/>
<rect x="947.10" y="154.85" width="56.64" height="76.55"/>
<rect x="947.10" y="216.09" width="56.64" height="15.31"/>
<rect x="954.18" y="170.16" width="56.64" height="61.24"/>
<rect x="961.26" y="154.85" width="56.64" height="76.55"/>
<rect x="961.26" y="170.16" width="56.64" height="61.24"/>
<rect x="968.34" y="170.16" width="56.64" height="61.24"/>
<rect x="975.42" y="216.09" width="56.64" height="15.31"/>
<rect x="989.58" y="170.16" width="56.64" height="61.24"/>
<rect x="989.58" y="200.78" width="56.64" height="30.62"/>
<rect x="996.66" y="185.47" width="56.64" height="45.93"/>
<rect x="1003.74" y="216.09" width="56.64" height="15.31"/>
<rect x="1010.82" y="216.09" width="56.64" height="15.31"/>
<rect x="1017.90" y="200.78" width="56.64" height="30.62"/>
<rect x="1024.98" y="139.54" width="56.64" height="91.86"/>
<rect x="1032.06" y="154.85" width="56.64" height="76.55"/>
<rect x="1032.06" y="185.47" width="56.64" height="45.93"/>
<rect x="1046.22" y="170.16" width="56.64" height="61.24"/>
<rect x="1060.38" y="200.78" width="56.64" height="30.62"/>
<rect x="1074.54" y="170.16" width="56.64" height="61.24"/>
<rect x="1074.54" y="185.47" width="56.64" height="45.93"/>
<rect x="1088.70" y="170.16" width="56.64" height="61.24"/>
<rect x="1095.78" y="216.09" width="56.64" height="15.31"/>
<rect x="1102.86" y="170.16" width="56.64" height="61.24"/>
<rect x="1117.02" y="216.09" width="56.64" height="15.31"/>
<rect x="1124.10" y="200.78" width="56.64" height="30.62"/>
<rect x="1131.18" y="200.78" width="56.64" height="30.62"/>
<rect x="1138.26" y="170.16" width="56.64" height="61.24"/>
<rect x="1138.26" y="216.09" width="56.64" height="15.31"/>
<rect x="1152.42" y="185.47" width="56.64" height="45.93"/>
<rect x="1159.50" y="216.09" width="56.64" height="15.31"/>
<rect x="1166.58" y="200.78" width="56.64" height="30.62"/>
<rect x="1173.66" y="170.16" width="56.64" height="61.24"/>
<rect x="1187.82" y="200.78" width="56.64" height="30.62"/>
<rect x="1194.90" y="170.16" width="56.64" height="61.24"/>
<rect x="1216.14" y="170.16" width="56.64" height="61.24"/>
<rect x="1230.30" y="170.16" width="56.64" height="61.24"/>
<rect x="1230.30" y="216.09" width="56.64" height="15.31"/>
<rect x="1237.38" y="185.47" width="56.64" height="45.93"/>
<rect x="1244.46" y="200.78" width="56.64" height="30.62"/>
<rect x="1251.54" y="185.47" width="56.64" height="45.93"/>
<rect x="1258.62" y="200.78" width="56.64" height="30.62"/>
<rect x="1272.78" y="200.78" width="56.64" height="30.62"/>
<rect x="1279.86" y="185.47" width="56.64" height="45.93"/>
<rect x="1315.26" y="216.09" width="56.64" height="15.31"/>
<rect x="1322.34" y="216.09" width="56.64" height="15.31"/>
<rect x="1329.42" y="200.78" width="56.64" height="30.62"/>
<rect x="1336.50" y="185.47" width="56.64" height="45.93"/>
<rect x="1336.50" y="185.47" width="56.64" height="45.93"/>
<rect x="1343.58" y="216.09" width="56.64" height="15.31"/>
<rect x="1350.66" y="216.09" width="56.64" height="15.31"/>
<rect x="1364.82" y="200.78" width="56.64" height="30.62"/>
<rect x="1378.98" y="200.78" width="56.64" height="30.62"/>
<rect x="1400.22" y="170.16" width="56.64" height="61.24"/>
<rect x="1414.38" y="185.47" width="56.64" height="45.93"/>
<rect x="1421.46" y="216.09" width="56.64" height="15.31"/>
<rect x="1428.54" y="200.78" width="56.64" height="30.62"/>
<rect x="1442.70" y="185.47" width="56.64" height="45.93"/>
<rect x="1449.78" y="216.09" width="56.64" height="15.31"/>
<rect x="1456.86" y="185.47" width="56.64" height="45.93"/>
<rect x="1492.26" y="200.78" width="56.64" height="30.62"/>
<rect x="1492.26" y="216.09" width="56.64" height="15.31"/>
</g>
<g stroke="#000" stroke-opacity="0.6" stroke-width="1.39">
<line x1="359.46" y1="154.85" x2="430.26" y2="154.85"/>
<line x1="154.14" y1="170.16" x2="168.30" y2="170.16"/>
</g>
<g fill="#808080" fill-opacity="0.07" stroke="#000" stroke-opacity="0.04" stroke-width="1.39">
<rect x="139.98" y="230.37" width="56.64" height="1.03"/>
<rect x="139.98" y="230.54" width="56.64" height="0.86"/>
<rect x="139.98" y="230.89" width="56.64" height="0.51"/>
<rect x="139.98" y="231.06" width="56.64" height="0.34"/>
<rect x="147.06" y="231.20" width="56.64" height="0.20"/>
<rect x="154.14" y="230.50" width="56.64" height="0.90"/>
<rect x="161.22" y="229.62" width="56.64" height="1.78"/>
<rect x="161.22" y="231.15" width="56.64" height="0.25"/>
<rect x="168.30" y="229.42" width="56.64" height="1.98"/>
<rect x="175.38" y="228.57" width="56.64" height="2.83"/>
<rect x="175.38" y="231.09" width="56.64" height="0.31"/>
<rect x="182.46" y="231.05" width="56.64" height="0.35"/>
<rect x="189.54" y="228.36" width="56.64" height="3.04"/>
<rect x="189.54" y="229.50" width="56.64" height="1.90"/>
<rect x="203.70" y="230.95" width="56.64" height="0.45"/>
<rect x="210.78" y="229.46" width="56.64" height="1.94"/>
<rect x="217.86" y="228.80" width="56.64" height="2.60"/>
<rect x="224.94" y="228.05" width="56.64" height="3.35"/>
<rect x="224.94" y="229.17" width="56.64" height="2.23"/>
<rect x="232.02" y="227.22" width="56.64" height="4.18"/>
<rect x="232.02" y="229.61" width="56.64" height="1.79"/>
<rect x="239.10" y="226.95" width="56.64" height="4.45"/>
<rect x="246.18" y="226.66" width="56.64" height="4.74"/>
<rect x="246.18" y="230.72" width="56.64" height="0.68"/>
<rect x="253.26" y="227.81" width="56.64" height="3.59"/>
<rect x="260.34" y="228.36" width="56.64" height="3.04"/>
<rect x="267.42" y="225.79" width="56.64" height="5.61"/>
<rect x="267.42" y="228.99" width="56.64" height="2.41"/>
<rect x="274.50" y="223.79" width="56.64" height="7.61"/>
<rect x="274.50" y="224.64" width="56.64" height="6.76"/>
<rect x="281.58" y="228.73" width="56.64" height="2.67"/>
<rect x="288.66" y="225.79" width="56.64" height="5.61"/>
<rect x="295.74" y="222.58" width="56.64" height="8.82"/>
<rect x="295.74" y="229.44" width="56.64" height="1.96"/>
<rect x="302.82" y="224.22" width="56.64" height="7.18"/>
<rect x="302.82" y="226.27" width="56.64" height="5.13"/>
<rect x="309.90" y="228.18" width="56.64" height="3.22"/>
<rect x="316.98" y="230.28" width="56.64" height="1.12"/>
<rect x="324.06" y="223.22" width="56.64" height="8.18"/>
<rect x="331.14" y="230.18" width="56.64" height="1.22"/>
<rect x="338.22" y="227.60" width="56.64" height="3.80"/>
<rect x="345.30" y="223.49" width="56.64" height="7.91"/>
<rect x="345.30" y="228.76" width="56.64" height="2.64"/>
<rect x="352.38" y="224.55" width="56.64" height="6.85"/>
<rect x="359.46" y="221.45" width="56.64" height="9.95"/>
<rect x="359.46" y="224.29" width="56.64" height="7.11"/>
<rect x="366.54" y="226.98" width="56.64" height="4.42"/>
<rect x="373.62" y="225.29" width="56.64" height="6.11"/>
<rect x="380.70" y="218.76" width="56.64" height="12.64"/>
<rect x="380.70" y="221.92" width="56.64" height="9.48"/>
<rect x="387.78" y="228.13" width="56.64" height="3.27"/>
<rect x="394.86" y="222.96" width="56.64" height="8.44"/>
<rect x="401.94" y="227.91" width="56.64" height="3.49"/>
<rect x="409.02" y="227.80" width="56.64" height="3.60"/>
<rect x="416.10" y="218.40" width="56.64" height="13.00"/>
<rect x="416.10" y="225.83" width="56.64" height="5.57"/>
<rect x="423.18" y="223.75" width="56.64" height="7.66"/>
<rect x="430.26" y="219.57" width="56.64" height="11.83"/>
<rect x="437.34" y="219.22" width="56.64" height="12.18"/>
<rect x="437.34" y="229.37" width="56.64" height="2.03"/>
<rect x="444.42" y="225.13" width="56.64" height="6.27"/>
<rect x="451.50" y="220.66" width="56.64" height="10.74"/>
<rect x="458.58" y="229.19" width="56.64" height="2.21"/>
<rect x="465.66" y="217.79" width="56.64" height="13.61"/>
<rect x="472.74" y="215.09" width="56.64" height="16.31"/>
<rect x="479.82" y="217.05" width="56.64" height="14.35"/>
<rect x="486.90" y="211.78" width="56.64" height="19.62"/>
<rect x="486.90" y="224.04" width="56.64" height="7.36"/>
<rect x="501.06" y="213.35" width="56.64" height="18.05"/>
<rect x="501.06" y="223.66" width="56.64" height="7.74"/>
<rect x="508.14" y="226.11" width="56.64" height="5.29"/>
<rect x="515.22" y="223.28" width="56.64" height="8.12"/>
<rect x="522.30" y="228.63" width="56.64" height="2.77"/>
<rect x="529.38" y="222.89" width="56.64" height="8.51"/>
<rect x="536.46" y="219.79" width="56.64" height="11.61"/>
<rect x="536.46" y="225.60" width="56.64" height="5.80"/>
<rect x="550.62" y="216.22" width="56.64" height="15.18"/>
<rect x="550.62" y="225.33" width="56.64" height="6.07"/>
<rect x="557.70" y="215.89" width="56.64" height="15.51"/>
<rect x="564.78" y="215.55" width="56.64" height="15.85"/>
<rect x="564.78" y="218.72" width="56.64" height="12.68"/>
<rect x="578.94" y="228.09" width="56.64" height="3.31"/>
<rect x="586.02" y="221.27" width="56.64" height="10.13"/>
<rect x="593.10" y="227.95" width="56.64" height="3.45"/>
<rect x="600.18" y="206.79" width="56.64" height="24.61"/>
<rect x="614.34" y="205.80" width="56.64" height="25.60"/>
<rect x="621.42" y="209.03" width="56.64" height="22.37"/>
<rect x="621.42" y="223.94" width="56.64" height="7.46"/>
<rect x="635.58" y="215.91" width="56.64" height="15.49"/>
<rect x="642.66" y="219.56" width="56.64" height="11.84"/>
<rect x="649.74" y="227.38" width="56.64" height="4.02"/>
<rect x="656.82" y="219.12" width="56.64" height="12.28"/>
<rect x="663.90" y="214.73" width="56.64" height="16.67"/>
<rect x="663.90" y="227.23" width="56.64" height="4.17"/>
<rect x="678.06" y="222.77" width="56.64" height="8.63"/>
<rect x="678.06" y="227.08" width="56.64" height="4.32"/>
<rect x="692.22" y="213.53" width="56.64" height="17.87"/>
<rect x="692.22" y="222.46" width="56.64" height="8.94"/>
<rect x="699.30" y="213.22" width="56.64" height="18.18"/>
<rect x="706.38" y="222.16" width="56.64" height="9.24"/>
<rect x="713.46" y="212.60" width="56.64" height="18.80"/>
<rect x="720.54" y="221.85" width="56.64" height="9.55"/>
<rect x="727.62" y="211.98" width="56.64" height="19.42"/>
<rect x="734.70" y="226.47" width="56.64" height="4.93"/>
<rect x="741.78" y="211.35" width="56.64" height="20.05"/>
<rect x="755.94" y="210.72" width="56.64" height="20.68"/>
<rect x="755.94" y="215.89" width="56.64" height="15.51"/>
<rect x="770.10" y="215.40" width="56.64" height="16.00"/>
<rect x="777.18" y="225.99" width="56.64" height="5.41"/>
<rect x="784.26" y="187.45" width="56.64" height="43.95"/>
<rect x="798.42" y="197.45" width="56.64" height="33.95"/>
<rect x="798.42" y="208.77" width="56.64" height="22.63"/>
<rect x="812.58" y="208.10" width="56.64" height="23.30"/>
<rect x="812.58" y="213.93" width="56.64" height="17.47"/>
<rect x="819.66" y="225.49" width="56.64" height="5.91"/>
<rect x="840.90" y="219.08" width="56.64" height="12.32"/>
<rect x="855.06" y="212.41" width="56.64" height="18.99"/>
<rect x="862.14" y="186.49" width="56.64" height="44.91"/>
<rect x="869.22" y="211.89" width="56.64" height="19.51"/>
<rect x="876.30" y="218.22" width="56.64" height="13.18"/>
<rect x="883.38" y="211.37" width="56.64" height="20.03"/>
<rect x="890.46" y="224.64" width="56.64" height="6.76"/>
<rect x="897.54" y="197.15" width="56.64" height="34.25"/>
<rect x="904.62" y="217.52" width="56.64" height="13.88"/>
<rect x="911.70" y="196.27" width="56.64" height="35.13"/>
<rect x="925.86" y="209.79" width="56.64" height="21.61"/>
<rect x="932.94" y="224.11" width="56.64" height="7.29"/>
<rect x="947.10" y="194.03" width="56.64" height="37.37"/>
<rect x="947.10" y="223.93" width="56.64" height="7.47"/>
<rect x="954.18" y="201.14" width="56.64" height="30.26"/>
<rect x="961.26" y="193.12" width="56.64" height="38.28"/>
<rect x="961.26" y="200.78" width="56.64" height="30.62"/>
<rect x="968.34" y="200.41" width="56.64" height="30.99"/>
<rect x="975.42" y="223.56" width="56.64" height="7.84"/>
<rect x="989.58" y="199.31" width="56.64" height="32.09"/>
<rect x="989.58" y="215.35" width="56.64" height="16.05"/>
<rect x="996.66" y="207.05" width="56.64" height="24.35"/>
<rect x="1003.74" y="223.19" width="56.64" height="8.21"/>
<rect x="1010.82" y="223.10" width="56.64" height="8.30"/>
<rect x="1017.90" y="214.61" width="56.64" height="16.79"/>
<rect x="1024.98" y="180.46" width="56.64" height="50.94"/>
<rect x="1032.06" y="188.48" width="56.64" height="42.92"/>
<rect x="1032.06" y="205.65" width="56.64" height="25.75"/>
<rect x="1046.22" y="196.30" width="56.64" height="35.10"/>
<rect x="1060.38" y="213.47" width="56.64" height="17.93"/>
<rect x="1074.54" y="194.76" width="56.64" height="36.64"/>
<rect x="1074.54" y="203.92" width="56.64" height="27.48"/>
<rect x="1088.70" y="193.99" width="56.64" height="37.41"/>
<rect x="1095.78" y="221.95" width="56.64" height="9.45"/>
<rect x="1102.86" y="193.20" width="56.64" height="38.20"/>
<rect x="1117.02" y="221.65" width="56.64" height="9.75"/>
<rect x="1124.10" y="211.71" width="56.64" height="19.69"/>
<rect x="1131.18" y="211.51" width="56.64" height="19.89"/>
<rect x="1138.26" y="191.23" width="56.64" height="40.17"/>
<rect x="1138.26" y="221.36" width="56.64" height="10.04"/>
<rect x="1152.42" y="200.67" width="56.64" height="30.73"/>
<rect x="1159.50" y="221.06" width="56.64" height="10.34"/>
<rect x="1166.58" y="210.51" width="56.64" height="20.89"/>
<rect x="1173.66" y="189.21" width="56.64" height="42.19"/>
<rect x="1187.82" y="209.90" width="56.64" height="21.50"/>
<rect x="1194.90" y="187.99" width="56.64" height="43.41"/>
<rect x="1216.14" y="186.76" width="56.64" height="44.64"/>
<rect x="1230.30" y="185.93" width="56.64" height="45.47"/>
<rect x="1230.30" y="220.03" width="56.64" height="11.37"/>
<rect x="1237.38" y="196.98" width="56.64" height="34.42"/>
<rect x="1244.46" y="208.25" width="56.64" height="23.15"/>
<rect x="1251.54" y="196.35" width="56.64" height="35.05"/>
<rect x="1258.62" y="207.83" width="56.64" height="23.57"/>
<rect x="1272.78" y="207.40" width="56.64" height="24.00"/>
<rect x="1279.86" y="195.09" width="56.64" height="36.31"/>
<rect x="1315.26" y="218.76" width="56.64" height="12.64"/>
<rect x="1322.34" y="218.65" width="56.64" height="12.75"/>
<rect x="1329.42" y="205.69" width="56.64" height="25.71"/>
<rect x="1336.50" y="192.51" width="56.64" height="38.89"/>
<rect x="1336.50" y="192.51" width="56.64" height="38.89"/>
<rect x="1343.58" y="218.33" width="56.64" height="13.07"/>
<rect x="1350.66" y="218.22" width="56.64" height="13.18"/>
<rect x="1364.82" y="204.60" width="56.64" height="26.80"/>
<rect x="1378.98" y="204.16" width="56.64" height="27.24"/>
<rect x="1400.22" y="175.59" width="56.64" height="55.81"/>
<rect x="1414.38" y="188.87" width="56.64" height="42.53"/>
<rect x="1421.46" y="217.11" width="56.64" height="14.29"/>
<rect x="1428.54" y="202.60" width="56.64" height="28.80"/>
<rect x="1442.70" y="187.52" width="56.64" height="43.88"/>
<rect x="1449.78" y="216.66" width="56.64" height="14.74"/>
<rect x="1456.86" y="186.84" width="56.64" height="44.56"/>
<rect x="1492.26" y="200.55" width="56.64" height="30.85"/>
<rect x="1492.26" y="215.98" width="56.64" height="15.42"/>
</g>
<g fill="#808080" fill-opacity="0.085" stroke="#000" stroke-opacity="0.04" stroke-width="1.39">
<rect x="1492.26" y="231.40" width="56.64" height="-1.07"/>
<rect x="1492.26" y="231.40" width="56.64" height="-0.92"/>
<rect x="1492.26" y="231.40" width="56.64" height="-0.77"/>
<rect x="1485.18" y="231.40" width="56.64" height="0.00"/>
<rect x="1442.70" y="231.40" width="56.64" height="5.97"/>
<rect x="1471.02" y="231.40" width="56.64" height="2.14"/>
<rect x="1478.10" y="231.40" width="56.64" height="1.00"/>
<rect x="1485.18" y="231.40" width="56.64" height="0.00"/>
<rect x="1492.26" y="231.40" width="56.64" height="-1.07"/>
<rect x="1492.26" y="231.40" width="56.64" height="-1.00"/>
<rect x="1442.70" y="231.40" width="56.64" height="5.51"/>
<rect x="1428.54" y="231.40" width="56.64" height="7.35"/>
<rect x="154.14" y="231.40" width="56.64" height="14.39"/>
<rect x="154.14" y="231.40" width="56.64" height="14.39"/>
<rect x="161.22" y="231.40" width="56.64" height="14.31"/>
<rect x="168.30" y="231.40" width="56.64" height="28.48"/>
<rect x="168.30" y="231.40" width="56.64" height="28.48"/>
<rect x="175.38" y="231.40" width="56.64" height="28.32"/>
<rect x="182.46" y="231.40" width="56.64" height="14.09"/>
<rect x="189.54" y="231.40" width="56.64" height="14.01"/>
<rect x="196.62" y="231.40" width="56.64" height="13.93"/>
<rect x="203.70" y="231.40" width="56.64" height="13.86"/>
<rect x="210.78" y="231.40" width="56.64" height="13.78"/>
<rect x="217.86" y="231.40" width="56.64" height="27.40"/>
<rect x="217.86" y="231.40" width="56.64" height="13.70"/>
<rect x="232.02" y="231.40" width="56.64" height="13.55"/>
<rect x="246.18" y="231.40" width="56.64" height="13.40"/>
<rect x="260.34" y="231.40" width="56.64" height="13.24"/>
<rect x="281.58" y="231.40" width="56.64" height="39.04"/>
<rect x="281.58" y="231.40" width="56.64" height="26.03"/>
<rect x="288.66" y="231.40" width="56.64" height="25.87"/>
<rect x="302.82" y="231.40" width="56.64" height="25.57"/>
<rect x="309.90" y="231.40" width="56.64" height="50.83"/>
<rect x="316.98" y="231.40" width="56.64" height="37.89"/>
<rect x="316.98" y="231.40" width="56.64" height="12.63"/>
<rect x="331.14" y="231.40" width="56.64" height="24.96"/>
<rect x="338.22" y="231.40" width="56.64" height="12.40"/>
<rect x="352.38" y="231.40" width="56.64" height="12.25"/>
<rect x="359.46" y="231.40" width="56.64" height="24.34"/>
<rect x="373.62" y="231.40" width="56.64" height="36.06"/>
<rect x="373.62" y="231.40" width="56.64" height="12.02"/>
<rect x="380.70" y="231.40" width="56.64" height="35.83"/>
<rect x="380.70" y="231.40" width="56.64" height="11.94"/>
<rect x="394.86" y="231.40" width="56.64" height="23.58"/>
<rect x="401.94" y="231.40" width="56.64" height="23.42"/>
<rect x="409.02" y="231.40" width="56.64" height="11.64"/>
<rect x="437.34" y="231.40" width="56.64" height="33.99"/>
<rect x="444.42" y="231.40" width="56.64" height="33.76"/>
<rect x="444.42" y="231.40" width="56.64" height="11.25"/>
<rect x="451.50" y="231.40" width="56.64" height="22.35"/>
<rect x="458.58" y="231.40" width="56.64" height="33.30"/>
<rect x="465.66" y="231.40" width="56.64" height="44.09"/>
<rect x="465.66" y="231.40" width="56.64" height="11.02"/>
<rect x="472.74" y="231.40" width="56.64" height="10.95"/>
<rect x="479.82" y="231.40" width="56.64" height="43.48"/>
<rect x="493.98" y="231.40" width="56.64" height="53.59"/>
<rect x="493.98" y="231.40" width="56.64" height="53.59"/>
<rect x="501.06" y="231.40" width="56.64" height="31.92"/>
<rect x="508.14" y="231.40" width="56.64" height="10.56"/>
<rect x="522.30" y="231.40" width="56.64" height="41.64"/>
<rect x="536.46" y="231.40" width="56.64" height="30.77"/>
<rect x="557.70" y="231.40" width="56.64" height="50.14"/>
<rect x="564.78" y="231.40" width="56.64" height="39.81"/>
<rect x="571.86" y="231.40" width="56.64" height="49.37"/>
<rect x="571.86" y="231.40" width="56.64" height="9.87"/>
<rect x="578.94" y="231.40" width="56.64" height="29.40"/>
<rect x="593.10" y="231.40" width="56.64" height="9.65"/>
<rect x="607.26" y="231.40" width="56.64" height="9.49"/>
<rect x="621.42" y="231.40" width="56.64" height="37.36"/>
<rect x="628.50" y="231.40" width="56.64" height="46.31"/>
<rect x="635.58" y="231.40" width="56.64" height="27.56"/>
<rect x="642.66" y="231.40" width="56.64" height="45.55"/>
<rect x="642.66" y="231.40" width="56.64" height="36.44"/>
<rect x="649.74" y="231.40" width="56.64" height="36.13"/>
<rect x="656.82" y="231.40" width="56.64" height="8.96"/>
<rect x="663.90" y="231.40" width="56.64" height="17.76"/>
<rect x="670.98" y="231.40" width="56.64" height="8.80"/>
<rect x="685.14" y="231.40" width="56.64" height="8.65"/>
<rect x="692.22" y="231.40" width="56.64" height="51.44"/>
<rect x="699.30" y="231.40" width="56.64" height="25.49"/>
<rect x="706.38" y="231.40" width="56.64" height="33.68"/>
<rect x="706.38" y="231.40" width="56.64" height="8.42"/>
<rect x="713.46" y="231.40" width="56.64" height="25.03"/>
<rect x="720.54" y="231.40" width="56.64" height="16.53"/>
<rect x="727.62" y="231.40" width="56.64" height="40.95"/>
<rect x="734.70" y="231.40" width="56.64" height="40.57"/>
<rect x="741.78" y="231.40" width="56.64" height="8.04"/>
<rect x="748.86" y="231.40" width="56.64" height="47.77"/>
<rect x="755.94" y="231.40" width="56.64" height="15.77"/>
<rect x="770.10" y="231.40" width="56.64" height="30.93"/>
<rect x="777.18" y="231.40" width="56.64" height="15.31"/>
<rect x="784.26" y="231.40" width="56.64" height="30.31"/>
<rect x="798.42" y="231.40" width="56.64" height="29.70"/>
<rect x="798.42" y="231.40" width="56.64" height="14.85"/>
<rect x="812.58" y="231.40" width="56.64" height="7.27"/>
<rect x="826.74" y="231.40" width="56.64" height="28.48"/>
<rect x="826.74" y="231.40" width="56.64" height="21.36"/>
<rect x="833.82" y="231.40" width="56.64" height="35.21"/>
<rect x="833.82" y="231.40" width="56.64" height="7.04"/>
<rect x="840.90" y="231.40" width="56.64" height="34.83"/>
<rect x="840.90" y="231.40" width="56.64" height="13.93"/>
<rect x="847.98" y="231.40" width="56.64" height="27.56"/>
<rect x="847.98" y="231.40" width="56.64" height="13.78"/>
<rect x="862.14" y="231.40" width="56.64" height="40.42"/>
<rect x="862.14" y="231.40" width="56.64" height="13.47"/>
<rect x="869.22" y="231.40" width="56.64" height="6.66"/>
<rect x="883.38" y="231.40" width="56.64" height="19.52"/>
<rect x="897.54" y="231.40" width="56.64" height="31.77"/>
<rect x="904.62" y="231.40" width="56.64" height="25.11"/>
<rect x="911.70" y="231.40" width="56.64" height="31.00"/>
<rect x="911.70" y="231.40" width="56.64" height="18.60"/>
<rect x="918.78" y="231.40" width="56.64" height="6.12"/>
<rect x="925.86" y="231.40" width="56.64" height="12.09"/>
<rect x="932.94" y="231.40" width="56.64" height="35.83"/>
<rect x="932.94" y="231.40" width="56.64" height="29.85"/>
<rect x="940.02" y="231.40" width="56.64" height="29.47"/>
<rect x="947.10" y="231.40" width="56.64" height="11.64"/>
<rect x="954.18" y="231.40" width="56.64" height="40.19"/>
<rect x="968.34" y="231.40" width="56.64" height="5.59"/>
<rect x="975.42" y="231.40" width="56.64" height="38.58"/>
<rect x="989.58" y="231.40" width="56.64" height="42.87"/>
<rect x="996.66" y="231.40" width="56.64" height="5.28"/>
<rect x="1003.74" y="231.40" width="56.64" height="15.62"/>
<rect x="1010.82" y="231.40" width="56.64" height="5.13"/>
<rect x="1024.98" y="231.40" width="56.64" height="44.78"/>
<rect x="1032.06" y="231.40" width="56.64" height="29.40"/>
<rect x="1046.22" y="231.40" width="56.64" height="33.22"/>
<rect x="1046.22" y="231.40" width="56.64" height="23.73"/>
<rect x="1060.38" y="231.40" width="56.64" height="27.56"/>
<rect x="1060.38" y="231.40" width="56.64" height="9.19"/>
<rect x="1067.46" y="231.40" width="56.64" height="36.13"/>
<rect x="1081.62" y="231.40" width="56.64" height="30.54"/>
<rect x="1081.62" y="231.40" width="56.64" height="13.09"/>
<rect x="1088.70" y="231.40" width="56.64" height="38.58"/>
<rect x="1088.70" y="231.40" width="56.64" height="25.72"/>
<rect x="1095.78" y="231.40" width="56.64" height="37.89"/>
<rect x="1095.78" y="231.40" width="56.64" height="16.84"/>
<rect x="1109.94" y="231.40" width="56.64" height="32.46"/>
<rect x="1117.02" y="231.40" width="56.64" height="39.81"/>
<rect x="1117.02" y="231.40" width="56.64" height="23.88"/>
<rect x="1131.18" y="231.40" width="56.64" height="7.65"/>
<rect x="1145.34" y="231.40" width="56.64" height="11.02"/>
<rect x="1152.42" y="231.40" width="56.64" height="21.59"/>
<rect x="1152.42" y="231.40" width="56.64" height="17.99"/>
<rect x="1166.58" y="231.40" width="56.64" height="24.11"/>
<rect x="1173.66" y="231.40" width="56.64" height="13.47"/>
<rect x="1180.74" y="231.40" width="56.64" height="9.87"/>
<rect x="1187.82" y="231.40" width="56.64" height="35.37"/>
<rect x="1194.90" y="231.40" width="56.64" height="6.28"/>
<rect x="1201.98" y="231.40" width="56.64" height="33.68"/>
<rect x="1216.14" y="231.40" width="56.64" height="11.64"/>
<rect x="1223.22" y="231.40" width="56.64" height="31.16"/>
<rect x="1223.22" y="231.40" width="56.64" height="19.83"/>
<rect x="1230.30" y="231.40" width="56.64" height="11.02"/>
<rect x="1244.46" y="231.40" width="56.64" height="13.01"/>
<rect x="1251.54" y="231.40" width="56.64" height="25.26"/>
<rect x="1251.54" y="231.40" width="56.64" height="7.58"/>
<rect x="1258.62" y="231.40" width="56.64" height="24.50"/>
<rect x="1258.62" y="231.40" width="56.64" height="9.80"/>
<rect x="1265.70" y="231.40" width="56.64" height="16.61"/>
<rect x="1272.78" y="231.40" width="56.64" height="18.37"/>
<rect x="1279.86" y="231.40" width="56.64" height="11.10"/>
<rect x="1286.94" y="231.40" width="56.64" height="19.29"/>
<rect x="1286.94" y="231.40" width="56.64" height="6.43"/>
<rect x="1301.10" y="231.40" width="56.64" height="25.87"/>
<rect x="1301.10" y="231.40" width="56.64" height="5.97"/>
<rect x="1308.18" y="231.40" width="56.64" height="19.14"/>
<rect x="1308.18" y="231.40" width="56.64" height="9.57"/>
<rect x="1315.26" y="231.40" width="56.64" height="11.02"/>
<rect x="1322.34" y="231.40" width="56.64" height="24.65"/>
<rect x="1322.34" y="231.40" width="56.64" height="19.37"/>
<rect x="1329.42" y="231.40" width="56.64" height="13.47"/>
<rect x="1336.50" y="231.40" width="56.64" height="9.65"/>
<rect x="1343.58" y="231.40" width="56.64" height="6.12"/>
<rect x="1350.66" y="231.40" width="56.64" height="11.64"/>
<rect x="1357.74" y="231.40" width="56.64" height="16.53"/>
<rect x="1357.74" y="231.40" width="56.64" height="8.27"/>
<rect x="1371.90" y="231.40" width="56.64" height="13.47"/>
<rect x="1378.98" y="231.40" width="56.64" height="13.78"/>
<rect x="1378.98" y="231.40" width="56.64" height="6.89"/>
<rect x="1386.06" y="231.40" width="56.64" height="15.00"/>
<rect x="1386.06" y="231.40" width="56.64" height="13.93"/>
<rect x="1386.06" y="231.40" width="56.64" height="7.50"/>
<rect x="1393.14" y="231.40" width="56.64" height="5.97"/>
<rect x="1400.22" y="231.40" width="56.64" height="11.94"/>
<rect x="1407.30" y="231.40" width="56.64" height="3.37"/>
<rect x="1414.38" y="231.40" width="56.64" height="11.48"/>
<rect x="1421.46" y="231.40" width="56.64" height="6.20"/>
<rect x="1428.54" y="231.40" width="56.64" height="4.29"/>
<rect x="1435.62" y="231.40" width="56.64" height="7.50"/>
<rect x="1435.62" y="231.40" width="56.64" height="4.29"/>
<rect x="1442.70" y="231.40" width="56.64" height="5.05"/>
<rect x="1449.78" y="231.40" width="56.64" height="5.74"/>
<rect x="1449.78" y="231.40" width="56.64" height="4.98"/>
<rect x="1456.86" y="231.40" width="56.64" height="5.51"/>
<rect x="1456.86" y="231.40" width="56.64" height="2.76"/>
<rect x="1463.94" y="231.40" width="56.64" height="3.90"/>
<rect x="1463.94" y="231.40" width="56.64" height="3.67"/>
<rect x="1471.02" y="231.40" width="56.64" height="1.53"/>
<rect x="1478.10" y="231.40" width="56.64" height="0.92"/>
<rect x="1485.18" y="231.40" width="56.64" height="0.00"/>
<rect x="1492.26" y="231.40" width="56.64" height="-1.15"/>
</g>
<line x1="69.5" y1="231.4" x2="1619.5" y2="231.4" stroke="#808080" stroke-width="2.78"/>
<line x1="238.10" y1="529.1999999999999" x2="238.10" y2="73.5" stroke="#000" stroke-width="2.08" stroke-dasharray="7.71 3.33"/>
<line x1="1370.90" y1="529.1999999999999" x2="1370.90" y2="73.5" stroke="#000" stroke-width="2.08" stroke-dasharray="7.71 3.33"/>
</g>
<rect x="69.5" y="73.5" width="1550.0" height="454.9" fill="none" stroke="#000" stroke-width="1.11" stroke-linecap="square"/>
<line x1="97.50" y1="528.4" x2="97.50" y2="533.26" stroke="#000" stroke-width="1.11"/>
<text x="86.39" y="548.00" font-size="14.72" textLength="20.81" lengthAdjust="spacingAndGlyphs">0.0</text>
<line x1="380.70" y1="528.4" x2="380.70" y2="533.26" stroke="#000" stroke-width="1.11"/>
<text x="369.59" y="548.00" font-size="14.72" textLength="20.51" lengthAdjust="spacingAndGlyphs">0.2</text>
<line x1="663.90" y1="528.4" x2="663.90" y2="533.26" stroke="#000" stroke-width="1.11"/>
<text x="652.79" y="548.00" font-size="14.72" textLength="20.80" lengthAdjust="spacingAndGlyphs">0.4</text>
<line x1="947.10" y1="528.4" x2="947.10" y2="533.26" stroke="#000" stroke-width="1.11"/>
<text x="935.99" y="548.00" font-size="14.72" textLength="20.94" lengthAdjust="spacingAndGlyphs">0.6</text>
<line x1="1230.30" y1="528.4" x2="1230.30" y2="533.26" stroke="#000" stroke-width="1.11"/>
<text x="1219.19" y="548.00" font-size="14.72" textLength="20.85" lengthAdjust="spacingAndGlyphs">0.8</text>
<line x1="1513.50" y1="528.4" x2="1513.50" y2="533.26" stroke="#000" stroke-width="1.11"/>
<text x="1502.44" y="548.00" font-size="14.72" textLength="20.77" lengthAdjust="spacingAndGlyphs">1.0</text>
<line x1="64.64" y1="78.30" x2="69.5" y2="78.30" stroke="#000" stroke-width="1.11"/>
<text x="41.88" y="83.70" font-size="14.72" textLength="16.56" lengthAdjust="spacingAndGlyphs">10</text>
<line x1="64.64" y1="154.85" x2="69.5" y2="154.85" stroke="#000" stroke-width="1.11"/>
<text x="50.64" y="160.25" font-size="14.72" textLength="7.49" lengthAdjust="spacingAndGlyphs">5</text>
<line x1="64.64" y1="231.40" x2="69.5" y2="231.40" stroke="#000" stroke-width="1.11"/>
<text x="50.48" y="236.80" font-size="14.72" textLength="7.94" lengthAdjust="spacingAndGlyphs">0</text>
<line x1="64.64" y1="307.95" x2="69.5" y2="307.95" stroke="#000" stroke-width="1.11"/>
<text x="39.41" y="313.35" font-size="14.72" textLength="18.85" lengthAdjust="spacingAndGlyphs">−5</text>
<line x1="64.64" y1="384.50" x2="69.5" y2="384.50" stroke="#000" stroke-width="1.11"/>
<text x="30.81" y="389.90" font-size="14.72" textLength="27.69" lengthAdjust="spacingAndGlyphs">−10</text>
<line x1="64.64" y1="461.05" x2="69.5" y2="461.05" stroke="#000" stroke-width="1.11"/>
<text x="30.81" y="466.45" font-size="14.72" textLength="27.44" lengthAdjust="spacingAndGlyphs">−15</text>
<text x="781.65" y="567.70" font-size="14.72" textLength="123.90" lengthAdjust="spacingAndGlyphs">Propensity Scores</text>
<g transform="translate(20,380.9) rotate(-90)"><text x="-0.79" y="0.00" font-size="14.72" textLength="161.85" lengthAdjust="spacingAndGlyphs">Counts of Observations</text></g>
<text x="477.86" y="31.80" font-size="29.43" textLength="722.86" lengthAdjust="spacingAndGlyphs">Weighted and Unweighted Draws from the Posterior</text>
<text x="643.74" y="63.70" font-size="29.43" textLength="418.19" lengthAdjust="spacingAndGlyphs">Propensity Scores Distribution</text>
<rect x="720.8" y="433.3" width="247.6" height="87.6" rx="2.8" fill="#fff" fill-opacity="0.8" stroke="#cccccc" stroke-opacity="0.8" stroke-width="1.39"/>
<line x1="725.5" y1="445.30" x2="753.3" y2="445.30" stroke="#87ceeb" stroke-width="2.78" stroke-linecap="square"/>
<text x="764.05" y="449.40" font-size="14.72" textLength="94.95" lengthAdjust="spacingAndGlyphs">Treatment PS</text>
<line x1="725.5" y1="465.93" x2="753.3" y2="465.93" stroke="#ffa500" stroke-width="2.78" stroke-linecap="square"/>
<text x="763.64" y="470.13" font-size="14.72" textLength="72.00" lengthAdjust="spacingAndGlyphs">Control PS</text>
<line x1="725.5" y1="486.56" x2="753.3" y2="486.56" stroke="#808080" stroke-width="2.78" stroke-linecap="square"/>
<text x="764.33" y="490.86" font-size="14.72" textLength="198.56" lengthAdjust="spacingAndGlyphs">Weighted Pseudo Population</text>
<line x1="725.5" y1="507.19" x2="753.3" y2="507.19" stroke="#000" stroke-width="2.78" stroke-dasharray="10.28 4.44"/>
<text x="763.17" y="511.59" font-size="14.72" textLength="80.16" lengthAdjust="spacingAndGlyphs">Extreme PS</text>
<g stroke="#000" stroke-opacity="0.6" stroke-width="1.39" fill-opacity="0.6">
<rect x="895.30" y="1053.93" width="14.62" height="20.17" fill="#87ceeb"/>
<rect x="909.92" y="976.60" width="14.62" height="97.50" fill="#87ceeb"/>
<rect x="924.54" y="919.45" width="14.62" height="154.65" fill="#87ceeb"/>
<rect x="939.16" y="721.09" width="14.62" height="353.01" fill="#87ceeb"/>
<rect x="953.78" y="670.66" width="14.62" height="403.44" fill="#87ceeb"/>
<rect x="968.40" y="758.07" width="14.62" height="316.03" fill="#87ceeb"/>
<rect x="983.02" y="869.02" width="14.62" height="205.08" fill="#87ceeb"/>
<rect x="997.64" y="993.41" width="14.62" height="80.69" fill="#87ceeb"/>
<rect x="1012.26" y="1037.12" width="14.62" height="36.98" fill="#87ceeb"/>
<rect x="1026.88" y="1060.65" width="14.62" height="13.45" fill="#87ceeb"/>
<rect x="115.30" y="1060.65" width="14.33" height="13.45" fill="#ffa500"/>
<rect x="129.63" y="1016.95" width="14.33" height="57.15" fill="#ffa500"/>
<rect x="143.96" y="939.62" width="14.33" height="134.48" fill="#ffa500"/>
<rect x="158.29" y="869.02" width="14.33" height="205.08" fill="#ffa500"/>
<rect x="172.62" y="758.07" width="14.33" height="316.03" fill="#ffa500"/>
<rect x="186.95" y="640.40" width="14.33" height="433.70" fill="#ffa500"/>
<rect x="201.28" y="778.24" width="14.33" height="295.86" fill="#ffa500"/>
<rect x="215.61" y="916.09" width="14.33" height="158.01" fill="#ffa500"/>
<rect x="229.94" y="1030.39" width="14.33" height="43.71" fill="#ffa500"/>
<rect x="244.27" y="1050.57" width="14.33" height="23.53" fill="#ffa500"/>
</g>
<rect x="69.5" y="619.5" width="1018.0" height="454.9000000000001" fill="none" stroke="#000" stroke-width="1.11" stroke-linecap="square"/>
<line x1="134.35" y1="1074.4" x2="134.35" y2="1079.26" stroke="#000" stroke-width="1.11"/>
<text x="123.29" y="1094.00" font-size="14.72" textLength="20.77" lengthAdjust="spacingAndGlyphs">1.0</text>
<line x1="315.38" y1="1074.4" x2="315.38" y2="1079.26" stroke="#000" stroke-width="1.11"/>
<text x="304.33" y="1094.00" font-size="14.72" textLength="20.51" lengthAdjust="spacingAndGlyphs">1.5</text>
<line x1="496.41" y1="1074.4" x2="496.41" y2="1079.26" stroke="#000" stroke-width="1.11"/>
<text x="485.23" y="1094.00" font-size="14.72" textLength="20.89" lengthAdjust="spacingAndGlyphs">2.0</text>
<line x1="677.44" y1="1074.4" x2="677.44" y2="1079.26" stroke="#000" stroke-width="1.11"/>
<text x="666.26" y="1094.00" font-size="14.72" textLength="20.63" lengthAdjust="spacingAndGlyphs">2.5</text>
<line x1="858.47" y1="1074.4" x2="858.47" y2="1079.26" stroke="#000" stroke-width="1.11"/>
<text x="847.52" y="1094.00" font-size="14.72" textLength="20.65" lengthAdjust="spacingAndGlyphs">3.0</text>
<line x1="1039.50" y1="1074.4" x2="1039.50" y2="1079.26" stroke="#000" stroke-width="1.11"/>
<text x="1028.55" y="1094.00" font-size="14.72" textLength="20.40" lengthAdjust="spacingAndGlyphs">3.5</text>
<line x1="64.64" y1="1074.60" x2="69.5" y2="1074.60" stroke="#000" stroke-width="1.11"/>
<text x="50.48" y="1080.00" font-size="14.72" textLength="7.94" lengthAdjust="spacingAndGlyphs">0</text>
<line x1="64.64" y1="1007.40" x2="69.5" y2="1007.40" stroke="#000" stroke-width="1.11"/>
<text x="41.76" y="1012.80" font-size="14.72" textLength="16.68" lengthAdjust="spacingAndGlyphs">20</text>
<line x1="64.64" y1="940.20" x2="69.5" y2="940.20" stroke="#000" stroke-width="1.11"/>
<text x="41.84" y="945.60" font-size="14.72" textLength="16.60" lengthAdjust="spacingAndGlyphs">40</text>
<line x1="64.64" y1="873.00" x2="69.5" y2="873.00" stroke="#000" stroke-width="1.11"/>
<text x="41.71" y="878.40" font-size="14.72" textLength="16.74" lengthAdjust="spacingAndGlyphs">60</text>
<line x1="64.64" y1="805.80" x2="69.5" y2="805.80" stroke="#000" stroke-width="1.11"/>
<text x="41.79" y="811.20" font-size="14.72" textLength="16.65" lengthAdjust="spacingAndGlyphs">80</text>
<line x1="64.64" y1="738.60" x2="69.5" y2="738.60" stroke="#000" stroke-width="1.11"/>
<text x="33.25" y="744.00" font-size="14.72" textLength="25.20" lengthAdjust="spacingAndGlyphs">100</text>
<line x1="64.64" y1="671.40" x2="69.5" y2="671.40" stroke="#000" stroke-width="1.11"/>
<text x="33.25" y="676.80" font-size="14.72" textLength="25.20" lengthAdjust="spacingAndGlyphs">120</text>
<text x="548.05" y="1113.80" font-size="14.72" textLength="59.75" lengthAdjust="spacingAndGlyphs">outcome</text>
<text x="473.51" y="577.70" font-size="29.43" textLength="200.69" lengthAdjust="spacingAndGlyphs">The Outcomes</text>
<text x="305.55" y="609.90" font-size="29.43" textLength="553.46" lengthAdjust="spacingAndGlyphs">Under the overlap re-weighting scheme</text>
<rect x="983.5" y="626.5" width="97" height="46" rx="2.8" fill="#fff" fill-opacity="0.8" stroke="#cccccc" stroke-opacity="0.8" stroke-width="1.39"/>
<rect x="988.4" y="633.4" width="28.2" height="9.4" fill="#87ceeb" fill-opacity="0.6" stroke="#000" stroke-opacity="0.6" stroke-width="1.39"/>
<rect x="988.4" y="654.0" width="28.2" height="9.4" fill="#ffa500" fill-opacity="0.6" stroke="#000" stroke-opacity="0.6" stroke-width="1.39"/>
<text x="1026.60" y="642.60" font-size="14.72" textLength="47.33" lengthAdjust="spacingAndGlyphs">E(Y(1))</text>
<text x="1026.60" y="663.70" font-size="14.72" textLength="47.33" lengthAdjust="spacingAndGlyphs">E(Y(0))</text>
<g stroke="#000" stroke-opacity="0.6" stroke-width="1.39" fill="#808080" fill-opacity="0.6">
<rect x="1154.50" y="1043.96" width="44.31" height="30.44"/>
<rect x="1198.81" y="952.64" width="44.31" height="121.76"/>
<rect x="1243.12" y="846.10" width="44.31" height="228.30"/>
<rect x="1287.43" y="682.49" width="44.31" height="391.92"/>
<rect x="1331.74" y="640.63" width="44.31" height="433.77"/>
<rect x="1376.05" y="728.15" width="44.31" height="346.25"/>
<rect x="1420.36" y="906.98" width="44.31" height="167.42"/>
<rect x="1464.67" y="941.23" width="44.31" height="133.18"/>
<rect x="1508.98" y="1043.96" width="44.31" height="30.44"/>
<rect x="1553.29" y="1055.38" width="44.31" height="19.03"/>
</g>
<line x1="1352" y1="1074.4" x2="1352" y2="619.5" stroke="#1f77b4" stroke-width="2.08"/>
<rect x="1132.5" y="619.5" width="487.0" height="454.9000000000001" fill="none" stroke="#000" stroke-width="1.11" stroke-linecap="square"/>
<line x1="1144.20" y1="1074.4" x2="1144.20" y2="1079.26" stroke="#000" stroke-width="1.11"/>
<text x="1133.14" y="1094.00" font-size="14.72" textLength="20.82" lengthAdjust="spacingAndGlyphs">1.8</text>
<line x1="1206.25" y1="1074.4" x2="1206.25" y2="1079.26" stroke="#000" stroke-width="1.11"/>
<text x="1195.18" y="1094.00" font-size="14.72" textLength="20.85" lengthAdjust="spacingAndGlyphs">1.9</text>
<line x1="1268.30" y1="1074.4" x2="1268.30" y2="1079.26" stroke="#000" stroke-width="1.11"/>
<text x="1257.12" y="1094.00" font-size="14.72" textLength="20.89" lengthAdjust="spacingAndGlyphs">2.0</text>
<line x1="1330.35" y1="1074.4" x2="1330.35" y2="1079.26" stroke="#000" stroke-width="1.11"/>
<text x="1319.17" y="1094.00" font-size="14.72" textLength="20.67" lengthAdjust="spacingAndGlyphs">2.1</text>
<line x1="1392.40" y1="1074.4" x2="1392.40" y2="1079.26" stroke="#000" stroke-width="1.11"/>
<text x="1381.22" y="1094.00" font-size="14.72" textLength="20.58" lengthAdjust="spacingAndGlyphs">2.2</text>
<line x1="1454.45" y1="1074.4" x2="1454.45" y2="1079.26" stroke="#000" stroke-width="1.11"/>
<text x="1443.27" y="1094.00" font-size="14.72" textLength="20.77" lengthAdjust="spacingAndGlyphs">2.3</text>
<line x1="1516.50" y1="1074.4" x2="1516.50" y2="1079.26" stroke="#000" stroke-width="1.11"/>
<text x="1505.32" y="1094.00" font-size="14.72" textLength="20.88" lengthAdjust="spacingAndGlyphs">2.4</text>
<line x1="1578.55" y1="1074.4" x2="1578.55" y2="1079.26" stroke="#000" stroke-width="1.11"/>
<text x="1567.37" y="1094.00" font-size="14.72" textLength="20.63" lengthAdjust="spacingAndGlyphs">2.5</text>
<line x1="1127.64" y1="1074.40" x2="1132.5" y2="1074.40" stroke="#000" stroke-width="1.11"/>
<text x="1113.48" y="1079.80" font-size="14.72" textLength="7.94" lengthAdjust="spacingAndGlyphs">0</text>
<line x1="1127.64" y1="998.30" x2="1132.5" y2="998.30" stroke="#000" stroke-width="1.11"/>
<text x="1104.76" y="1003.70" font-size="14.72" textLength="16.68" lengthAdjust="spacingAndGlyphs">20</text>
<line x1="1127.64" y1="922.20" x2="1132.5" y2="922.20" stroke="#000" stroke-width="1.11"/>
<text x="1104.84" y="927.60" font-size="14.72" textLength="16.60" lengthAdjust="spacingAndGlyphs">40</text>
<line x1="1127.64" y1="846.10" x2="1132.5" y2="846.10" stroke="#000" stroke-width="1.11"/>
<text x="1104.71" y="851.50" font-size="14.72" textLength="16.74" lengthAdjust="spacingAndGlyphs">60</text>
<line x1="1127.64" y1="770.00" x2="1132.5" y2="770.00" stroke="#000" stroke-width="1.11"/>
<text x="1104.79" y="775.40" font-size="14.72" textLength="16.65" lengthAdjust="spacingAndGlyphs">80</text>
<line x1="1127.64" y1="693.90" x2="1132.5" y2="693.90" stroke="#000" stroke-width="1.11"/>
<text x="1096.25" y="699.30" font-size="14.72" textLength="25.20" lengthAdjust="spacingAndGlyphs">100</text>
<text x="1338.52" y="1113.80" font-size="14.72" textLength="71.28" lengthAdjust="spacingAndGlyphs">Difference</text>
<text x="1198.24" y="609.80" font-size="29.43" textLength="352.89" lengthAdjust="spacingAndGlyphs">Average Treatment Effect</text>
<rect x="1516.5" y="626.5" width="95.9" height="46" rx="2.8" fill="#fff" fill-opacity="0.8" stroke="#cccccc" stroke-opacity="0.8" stroke-width="1.39"/>
<rect x="1522.4" y="633.4" width="28.2" height="9.4" fill="#808080" fill-opacity="0.6" stroke="#000" stroke-opacity="0.6" stroke-width="1.39"/>
<line x1="1521.0" y1="658.0" x2="1551.0" y2="658.0" stroke="#1f77b4" stroke-width="2.08"/>
<text x="1561.27" y="642.20" font-size="14.72" textLength="26.37" lengthAdjust="spacingAndGlyphs">ATE</text>
<text x="1560.15" y="663.70" font-size="14.72" textLength="45.83" lengthAdjust="spacingAndGlyphs">E(ATE)</text>
</svg></body></html>
